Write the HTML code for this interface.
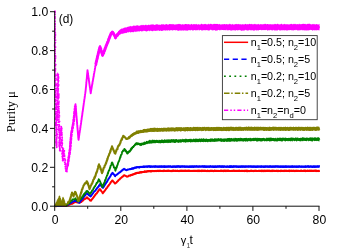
<!DOCTYPE html>
<html><head><meta charset="utf-8"><title>Purity</title>
<style>html,body{margin:0;padding:0;background:#fff;}svg{display:block;will-change:transform;}</style></head>
<body>
<svg width="349" height="252" viewBox="0 0 349 252">
<rect width="349" height="252" fill="#fff"/>
<polyline fill="none" stroke="#ff0000" stroke-width="2" stroke-linejoin="round" points="54.7,206.0 55.3,206.0 56.0,206.2 56.6,206.0 57.2,206.0 57.8,206.0 58.5,205.8 59.1,205.9 59.7,206.0 60.3,206.1 61.0,205.7 61.6,205.8 62.2,205.7 62.8,206.0 63.5,206.0 64.1,205.6 64.7,206.1 65.3,206.1 66.0,205.9 66.6,205.9 67.2,205.6 67.8,205.3 68.3,205.3 68.9,204.8 69.5,204.6 70.0,204.4 70.6,204.0 71.2,204.0 71.7,203.7 72.3,203.7 72.9,203.2 73.5,203.0 74.0,202.6 74.6,202.4 75.2,202.1 75.8,201.7 76.4,202.2 77.0,202.3 77.6,202.4 78.3,202.4 78.9,202.4 79.5,202.4 80.1,202.6 80.6,202.1 81.1,202.1 81.5,201.5 82.0,201.3 82.5,200.7 83.0,200.6 83.4,200.2 83.9,199.3 84.4,199.1 84.9,199.1 85.4,198.5 86.0,198.4 86.5,197.8 87.0,197.3 87.5,198.0 88.0,198.5 88.5,198.7 89.0,199.0 89.4,199.5 89.9,200.3 90.4,200.6 90.9,200.7 91.3,200.3 91.6,199.7 92.0,199.2 92.3,199.1 92.7,198.3 93.1,198.0 93.4,197.5 93.8,196.9 94.1,196.7 94.5,195.9 94.9,195.7 95.2,194.9 95.6,194.6 95.9,194.0 96.3,193.6 96.7,193.5 97.0,192.9 97.4,192.2 97.7,192.0 98.1,191.2 98.5,190.8 98.8,190.5 99.2,189.9 99.5,189.2 99.9,189.1 100.3,189.3 100.6,189.9 101.0,190.7 101.3,191.0 101.7,191.5 102.1,192.0 102.4,192.5 102.8,193.3 103.2,192.7 103.5,192.4 103.9,191.7 104.3,191.3 104.6,191.0 105.0,190.3 105.4,189.8 105.8,189.5 106.1,188.6 106.5,188.1 106.9,188.0 107.2,187.5 107.6,186.7 108.0,186.1 108.3,185.9 108.7,185.5 109.1,184.6 109.4,184.5 109.8,184.0 110.2,183.4 110.6,182.8 110.9,182.1 111.3,181.6 111.7,181.5 112.0,180.7 112.4,180.4 112.8,180.7 113.2,181.4 113.6,181.8 113.9,182.1 114.3,182.6 114.7,183.3 115.1,183.5 115.5,183.1 116.0,182.9 116.4,182.6 116.9,182.0 117.3,181.4 117.8,181.3 118.2,180.5 118.7,180.0 119.1,179.7 119.6,179.4 120.0,178.8 120.5,178.4 120.9,178.0 121.4,177.7 121.8,177.1 122.3,176.8 122.8,176.6 123.2,176.2 123.6,175.6 124.1,175.2 124.7,175.5 125.3,175.7 126.0,176.1 126.6,176.5 127.2,176.7 127.8,176.4 128.3,176.3 128.9,175.6 129.5,175.7 130.1,175.4 130.6,175.3 131.2,174.9 131.8,175.0 132.4,174.4 133.0,174.4 133.5,174.3 134.1,174.2 134.7,173.9 135.3,173.6 135.8,173.5 136.4,173.3 137.0,172.8 137.6,172.9 138.2,172.9 138.8,172.8 139.5,172.5 140.1,172.6 140.7,172.5 141.3,172.3 141.9,172.2 142.6,172.0 143.2,172.0 143.8,171.9 144.4,171.6 145.0,171.7 145.6,171.8 146.2,171.7 146.9,171.5 147.5,171.2 148.1,171.3 148.7,171.2 149.4,171.1 150.0,171.3 150.6,170.9 151.2,171.2 151.9,170.9 152.5,171.1 153.1,171.1 153.7,170.9 154.4,171.1 155.0,171.0 155.6,171.1 156.2,171.2 156.9,170.9 157.5,170.7 158.1,170.8 158.7,171.0 159.4,170.8 160.0,170.7 160.6,171.1 161.2,171.0 161.8,170.9 162.4,171.1 163.0,170.8 163.6,171.0 164.2,170.7 164.8,170.9 165.4,171.1 166.0,171.1 166.6,171.1 167.2,170.8 167.8,170.9 168.4,170.8 169.0,170.7 169.6,170.9 170.2,171.1 170.8,171.1 171.4,171.0 172.0,171.1 172.6,170.8 173.2,170.7 173.8,170.9 174.4,170.8 175.0,170.8 175.6,170.9 176.2,171.0 176.8,170.9 177.4,170.8 178.0,171.1 178.6,171.1 179.2,170.9 179.8,170.7 180.4,170.7 181.0,171.1 181.6,170.7 182.2,171.0 182.8,170.9 183.4,170.8 184.0,171.0 184.6,170.7 185.2,170.7 185.8,170.9 186.4,170.7 187.0,171.1 187.6,170.8 188.2,170.7 188.8,170.7 189.4,171.0 190.0,170.9 190.6,171.0 191.2,171.0 191.8,171.1 192.4,171.1 193.0,171.0 193.6,170.7 194.2,170.9 194.8,170.7 195.4,170.7 196.0,170.9 196.6,171.0 197.2,170.7 197.8,170.8 198.4,170.8 199.0,171.0 199.6,170.9 200.3,171.0 200.9,171.0 201.5,170.8 202.1,171.0 202.7,171.1 203.3,170.7 203.9,171.1 204.5,171.0 205.1,170.7 205.7,170.9 206.3,171.0 206.9,171.1 207.5,170.8 208.1,170.9 208.7,171.1 209.3,171.0 209.9,171.1 210.5,170.9 211.1,171.0 211.7,170.8 212.3,171.0 212.9,171.1 213.5,171.0 214.1,171.0 214.7,170.8 215.3,171.1 215.9,171.1 216.5,171.1 217.1,170.9 217.7,171.0 218.3,170.8 218.9,171.1 219.5,171.1 220.1,170.8 220.7,170.7 221.3,170.9 221.9,170.9 222.5,171.0 223.1,170.9 223.7,170.7 224.3,171.1 224.9,170.7 225.5,171.0 226.1,170.7 226.7,170.8 227.3,171.0 227.9,170.7 228.5,170.7 229.1,170.9 229.7,171.0 230.3,171.1 230.9,171.0 231.5,171.1 232.1,170.9 232.7,171.1 233.3,170.7 233.9,170.8 234.5,170.9 235.1,170.8 235.7,171.0 236.3,171.0 236.9,170.9 237.5,171.1 238.1,170.9 238.7,170.8 239.3,170.8 239.9,171.1 240.5,171.1 241.1,170.8 241.7,171.1 242.3,171.1 242.9,170.9 243.5,170.9 244.1,170.8 244.7,170.9 245.3,170.9 245.9,171.0 246.5,170.7 247.1,171.1 247.7,170.9 248.3,170.9 248.9,171.1 249.5,170.9 250.1,170.9 250.7,171.0 251.3,170.7 251.9,170.9 252.5,170.9 253.1,171.1 253.7,171.1 254.3,170.8 254.9,170.9 255.5,170.7 256.1,170.9 256.7,171.1 257.3,171.1 257.9,170.9 258.5,170.8 259.1,170.7 259.7,171.0 260.3,171.1 260.9,170.7 261.5,171.0 262.1,170.7 262.7,170.7 263.3,170.8 263.9,171.0 264.5,170.8 265.1,170.8 265.7,171.0 266.3,170.7 266.9,171.0 267.5,170.7 268.1,170.9 268.7,170.8 269.3,170.7 269.9,170.9 270.5,170.9 271.1,170.8 271.7,170.9 272.3,170.9 272.9,170.7 273.5,170.8 274.1,171.0 274.7,171.0 275.3,170.9 275.9,171.1 276.5,171.0 277.1,171.1 277.7,170.8 278.3,171.0 278.9,171.1 279.5,171.1 280.2,170.8 280.8,170.8 281.4,171.1 282.0,170.8 282.6,171.1 283.2,171.1 283.8,170.7 284.4,170.8 285.0,171.0 285.6,170.8 286.2,170.7 286.8,171.1 287.4,170.9 288.0,171.0 288.6,170.7 289.2,170.9 289.8,171.0 290.4,170.7 291.0,170.8 291.6,171.0 292.2,171.1 292.8,171.1 293.4,170.7 294.0,170.9 294.6,171.0 295.2,170.9 295.8,171.0 296.4,170.7 297.0,170.7 297.6,170.7 298.2,170.7 298.8,170.9 299.4,170.9 300.0,170.9 300.6,170.7 301.2,170.7 301.8,170.8 302.4,171.1 303.0,171.1 303.6,171.1 304.2,170.7 304.8,170.7 305.4,171.1 306.0,170.9 306.6,171.0 307.2,170.8 307.8,170.9 308.4,170.9 309.0,170.9 309.6,171.0 310.2,170.7 310.8,171.0 311.4,171.1 312.0,170.7 312.6,170.9 313.2,171.0 313.8,170.9 314.4,170.7 315.0,170.7 315.6,170.9 316.2,170.7 316.8,171.1 317.4,171.1 318.0,171.0 318.6,171.1 319.2,171.0 319.8,170.9"/>
<polygon fill="#ff0000" points="130.0,174.5 130.5,174.5 131.0,173.9 131.5,174.0 132.0,173.8 132.5,173.7 133.0,173.4 133.5,173.3 134.0,173.1 134.5,172.7 135.0,172.3 135.5,172.5 136.0,172.1 136.5,172.1 137.0,171.9 137.5,171.8 138.0,171.9 138.5,171.7 139.0,171.8 139.5,171.5 140.0,171.3 140.5,171.1 141.0,171.2 141.5,171.0 142.0,171.1 142.5,171.2 143.0,171.2 143.5,171.0 144.0,170.8 144.5,170.5 145.0,170.5 145.5,170.4 146.0,170.5 146.5,170.6 147.0,170.3 147.5,170.2 148.0,170.2 148.5,170.0 149.0,170.0 149.5,170.0 150.0,169.9 150.5,170.0 151.0,170.2 151.5,170.3 152.0,169.8 152.5,170.0 153.0,170.3 153.5,170.0 154.0,170.1 154.5,170.2 155.0,170.0 155.5,170.0 156.0,169.8 156.5,170.0 157.0,169.9 157.5,169.9 158.0,169.9 158.5,170.0 159.0,170.1 159.5,170.0 160.0,169.7 160.5,170.0 161.0,169.8 161.5,169.9 162.0,169.9 162.5,170.0 163.0,169.7 163.5,170.1 164.0,169.6 164.5,169.7 165.0,169.9 165.5,169.9 166.0,169.6 166.5,169.9 167.0,169.8 167.5,169.7 168.0,170.0 168.5,169.6 169.0,170.0 169.5,170.0 170.0,169.8 170.5,170.0 171.0,169.9 171.5,169.8 172.0,170.0 172.5,169.8 173.0,169.6 173.5,169.6 174.0,169.9 174.5,169.9 175.0,170.0 175.5,169.7 176.0,169.6 176.5,170.0 177.0,169.7 177.5,169.8 178.0,169.8 178.5,170.0 179.0,170.1 179.5,170.1 180.0,170.0 180.5,169.8 181.0,170.1 181.5,169.7 182.0,169.8 182.5,169.8 183.0,169.7 183.5,170.0 184.0,170.0 184.5,169.7 185.0,170.0 185.5,169.6 186.0,169.9 186.5,170.1 187.0,170.0 187.5,169.9 188.0,169.6 188.5,170.0 189.0,169.6 189.5,169.7 190.0,169.9 190.5,169.7 191.0,169.9 191.5,169.8 192.0,170.1 192.5,169.8 193.0,170.0 193.5,170.1 194.0,170.0 194.5,170.0 195.0,170.0 195.5,170.1 196.0,169.9 196.5,170.0 197.0,169.8 197.5,170.0 198.0,169.8 198.5,169.7 199.0,169.7 199.5,169.6 200.0,169.7 200.5,170.0 201.0,169.6 201.5,169.9 202.0,169.6 202.5,169.7 203.0,169.7 203.5,169.9 204.0,169.7 204.5,169.7 205.0,169.8 205.5,170.0 206.0,169.7 206.5,170.1 207.0,169.9 207.5,169.8 208.0,169.6 208.5,170.0 209.0,169.9 209.5,169.7 210.0,169.9 210.5,169.6 211.0,169.8 211.5,170.0 212.0,169.7 212.5,169.8 213.0,170.0 213.5,169.9 214.0,169.7 214.5,169.7 215.0,169.6 215.5,170.0 216.0,169.6 216.5,170.0 217.0,169.8 217.5,170.1 218.0,170.0 218.5,170.0 219.0,170.1 219.5,170.0 220.0,169.9 220.5,169.7 221.0,169.8 221.5,169.6 222.0,169.8 222.5,169.8 223.0,169.7 223.5,169.8 224.0,170.0 224.5,169.6 225.0,170.0 225.5,169.9 226.0,169.6 226.5,170.0 227.0,169.9 227.5,169.8 228.0,169.7 228.5,169.8 229.0,169.7 229.5,170.0 230.0,170.1 230.5,170.0 231.0,170.0 231.5,169.7 232.0,169.9 232.5,169.7 233.0,170.0 233.5,169.6 234.0,169.7 234.5,169.8 235.0,170.1 235.5,169.9 236.0,170.0 236.5,169.8 237.0,169.8 237.5,169.8 238.0,170.1 238.5,169.9 239.0,169.6 239.5,169.8 240.0,169.7 240.5,169.9 241.0,170.0 241.5,169.7 242.0,170.1 242.5,169.8 243.0,169.7 243.5,170.1 244.0,170.0 244.5,169.7 245.0,169.9 245.5,169.6 246.0,169.9 246.5,169.8 247.0,169.8 247.5,169.7 248.0,169.7 248.5,169.9 249.0,169.9 249.5,170.1 250.0,170.0 250.5,169.7 251.0,169.7 251.5,169.7 252.0,170.0 252.5,169.9 253.0,169.6 253.5,170.1 254.0,169.9 254.5,169.9 255.0,169.8 255.5,170.0 256.0,169.7 256.5,169.7 257.0,169.9 257.5,169.9 258.0,169.9 258.5,169.9 259.0,169.9 259.5,170.1 260.0,169.8 260.5,169.9 261.0,170.0 261.5,169.8 262.0,170.0 262.5,169.8 263.0,169.9 263.5,169.9 264.0,169.8 264.5,169.8 265.0,170.0 265.5,170.0 266.0,170.0 266.5,169.9 267.0,169.7 267.5,169.9 268.0,169.6 268.5,169.9 269.0,169.8 269.5,169.7 270.0,170.1 270.5,169.9 271.0,169.8 271.5,169.7 272.0,169.9 272.5,169.6 273.0,169.7 273.5,170.1 274.0,169.7 274.5,169.8 275.0,170.0 275.5,169.8 276.0,169.9 276.5,169.6 277.0,169.8 277.5,170.1 278.0,169.8 278.5,169.7 279.0,170.0 279.5,170.0 280.0,169.8 280.5,170.0 281.0,169.7 281.5,169.7 282.0,169.6 282.5,170.0 283.0,170.1 283.5,170.0 284.0,169.9 284.5,169.8 285.0,169.7 285.5,170.0 286.0,169.7 286.5,169.9 287.0,169.8 287.5,170.0 288.0,169.7 288.5,170.1 289.0,169.7 289.5,169.6 290.0,169.8 290.5,169.9 291.0,169.9 291.5,169.7 292.0,169.6 292.5,170.0 293.0,169.7 293.5,169.7 294.0,170.1 294.5,169.8 295.0,169.8 295.5,169.8 296.0,169.9 296.5,169.8 297.0,170.0 297.5,169.9 298.0,169.9 298.5,170.1 299.0,170.0 299.5,169.9 300.0,169.8 300.5,170.0 301.0,169.7 301.5,169.7 302.0,169.8 302.5,169.9 303.0,169.9 303.5,169.7 304.0,169.6 304.5,169.8 305.0,169.7 305.5,169.6 306.0,169.9 306.5,170.0 307.0,169.7 307.5,169.6 308.0,169.9 308.5,169.7 309.0,169.6 309.5,169.7 310.0,169.7 310.5,170.0 311.0,169.6 311.5,169.8 312.0,170.1 312.5,169.8 313.0,170.1 313.5,169.8 314.0,169.6 314.5,170.0 315.0,169.8 315.5,169.8 316.0,169.6 316.5,170.0 317.0,169.7 317.5,169.9 318.0,169.8 318.5,169.8 319.0,170.1 319.5,169.6 319.5,171.9 319.0,172.0 318.5,171.9 318.0,172.2 317.5,171.8 317.0,171.8 316.5,172.1 316.0,172.2 315.5,171.7 315.0,171.8 314.5,171.8 314.0,171.8 313.5,172.1 313.0,171.8 312.5,172.1 312.0,171.7 311.5,171.8 311.0,171.9 310.5,172.1 310.0,172.0 309.5,171.8 309.0,172.1 308.5,172.0 308.0,172.0 307.5,171.9 307.0,171.9 306.5,171.8 306.0,172.0 305.5,172.2 305.0,172.1 304.5,171.9 304.0,171.9 303.5,171.8 303.0,172.1 302.5,172.1 302.0,171.7 301.5,172.0 301.0,171.9 300.5,172.1 300.0,172.1 299.5,171.8 299.0,171.8 298.5,171.8 298.0,172.0 297.5,172.1 297.0,172.0 296.5,172.0 296.0,172.0 295.5,171.8 295.0,172.2 294.5,172.1 294.0,171.7 293.5,172.1 293.0,172.0 292.5,171.8 292.0,171.8 291.5,172.1 291.0,171.8 290.5,171.7 290.0,172.0 289.5,172.2 289.0,172.0 288.5,172.0 288.0,171.9 287.5,172.0 287.0,172.0 286.5,172.1 286.0,171.8 285.5,171.8 285.0,171.9 284.5,171.7 284.0,172.2 283.5,171.8 283.0,172.1 282.5,171.9 282.0,171.8 281.5,172.1 281.0,172.0 280.5,172.2 280.0,171.8 279.5,171.9 279.0,171.8 278.5,172.2 278.0,171.8 277.5,172.2 277.0,171.9 276.5,172.1 276.0,171.7 275.5,171.9 275.0,172.1 274.5,171.7 274.0,171.8 273.5,171.7 273.0,172.0 272.5,172.1 272.0,172.2 271.5,172.1 271.0,172.1 270.5,172.1 270.0,172.2 269.5,171.7 269.0,171.9 268.5,171.8 268.0,172.0 267.5,171.9 267.0,171.9 266.5,171.7 266.0,171.9 265.5,172.0 265.0,172.2 264.5,171.7 264.0,172.2 263.5,172.0 263.0,172.2 262.5,171.9 262.0,172.1 261.5,172.2 261.0,172.1 260.5,172.0 260.0,171.9 259.5,172.0 259.0,171.8 258.5,171.7 258.0,171.9 257.5,171.8 257.0,171.8 256.5,171.9 256.0,171.9 255.5,171.7 255.0,172.0 254.5,172.1 254.0,171.9 253.5,172.2 253.0,171.8 252.5,171.7 252.0,171.8 251.5,172.0 251.0,172.1 250.5,172.1 250.0,172.0 249.5,172.2 249.0,171.8 248.5,172.0 248.0,172.2 247.5,172.2 247.0,171.9 246.5,172.2 246.0,172.0 245.5,171.8 245.0,171.8 244.5,172.2 244.0,172.1 243.5,172.0 243.0,172.1 242.5,172.0 242.0,172.0 241.5,172.1 241.0,172.0 240.5,172.1 240.0,171.9 239.5,172.0 239.0,171.9 238.5,172.0 238.0,172.1 237.5,172.0 237.0,171.7 236.5,171.9 236.0,172.1 235.5,172.0 235.0,171.9 234.5,171.7 234.0,171.8 233.5,171.8 233.0,172.0 232.5,171.9 232.0,172.1 231.5,171.7 231.0,171.7 230.5,171.9 230.0,172.0 229.5,171.9 229.0,171.8 228.5,172.0 228.0,171.9 227.5,172.0 227.0,171.8 226.5,171.8 226.0,172.2 225.5,171.9 225.0,171.8 224.5,171.9 224.0,172.0 223.5,172.2 223.0,171.9 222.5,172.0 222.0,172.1 221.5,171.9 221.0,171.9 220.5,172.1 220.0,172.0 219.5,171.8 219.0,171.7 218.5,171.9 218.0,171.9 217.5,172.0 217.0,171.9 216.5,171.7 216.0,171.8 215.5,172.1 215.0,172.1 214.5,172.1 214.0,172.0 213.5,172.2 213.0,172.0 212.5,171.8 212.0,171.8 211.5,172.0 211.0,172.1 210.5,171.9 210.0,171.8 209.5,172.2 209.0,172.0 208.5,171.9 208.0,172.2 207.5,171.8 207.0,172.2 206.5,171.9 206.0,172.1 205.5,171.9 205.0,172.0 204.5,172.1 204.0,171.8 203.5,171.8 203.0,172.1 202.5,171.8 202.0,171.8 201.5,172.2 201.0,171.9 200.5,171.8 200.0,172.0 199.5,171.9 199.0,172.2 198.5,171.9 198.0,171.8 197.5,172.2 197.0,171.8 196.5,171.9 196.0,172.1 195.5,172.0 195.0,172.1 194.5,172.1 194.0,172.0 193.5,171.9 193.0,172.1 192.5,172.0 192.0,172.0 191.5,171.9 191.0,172.1 190.5,172.1 190.0,171.8 189.5,172.1 189.0,172.0 188.5,172.1 188.0,171.7 187.5,172.1 187.0,171.7 186.5,172.0 186.0,172.0 185.5,172.0 185.0,171.8 184.5,172.1 184.0,172.0 183.5,172.0 183.0,172.0 182.5,171.9 182.0,171.9 181.5,171.9 181.0,172.1 180.5,171.9 180.0,171.9 179.5,171.9 179.0,172.2 178.5,172.0 178.0,171.8 177.5,172.1 177.0,171.8 176.5,172.0 176.0,171.9 175.5,172.0 175.0,171.7 174.5,171.8 174.0,171.9 173.5,171.7 173.0,172.1 172.5,171.9 172.0,172.2 171.5,172.0 171.0,172.2 170.5,171.9 170.0,171.8 169.5,171.8 169.0,172.0 168.5,171.8 168.0,172.1 167.5,171.9 167.0,171.9 166.5,172.0 166.0,172.0 165.5,171.7 165.0,171.8 164.5,171.9 164.0,171.7 163.5,172.1 163.0,172.2 162.5,171.8 162.0,172.0 161.5,172.0 161.0,171.8 160.5,172.0 160.0,172.1 159.5,171.8 159.0,172.2 158.5,172.0 158.0,172.0 157.5,171.9 157.0,172.1 156.5,171.9 156.0,171.8 155.5,172.0 155.0,171.9 154.5,172.2 154.0,172.1 153.5,172.3 153.0,172.0 152.5,172.1 152.0,172.4 151.5,172.4 151.0,172.0 150.5,172.4 150.0,172.3 149.5,172.0 149.0,172.0 148.5,172.3 148.0,172.3 147.5,172.2 147.0,172.5 146.5,172.5 146.0,172.4 145.5,172.6 145.0,172.7 144.5,173.0 144.0,173.0 143.5,172.7 143.0,173.1 142.5,173.1 142.0,173.2 141.5,173.5 141.0,173.1 140.5,173.3 140.0,173.4 139.5,173.7 139.0,173.4 138.5,173.9 138.0,173.9 137.5,173.8 137.0,174.0 136.5,174.1 136.0,174.5 135.5,174.6 135.0,174.6 134.5,174.8 134.0,174.8 133.5,175.2 133.0,175.5 132.5,175.8 132.0,175.7 131.5,176.1 131.0,176.3 130.5,176.5 130.0,176.5"/>
<polyline fill="none" stroke="#0000ff" stroke-width="2" stroke-linejoin="round" points="54.7,206.1 55.3,205.7 56.0,205.9 56.6,206.0 57.2,206.1 57.8,205.9 58.5,206.1 59.1,205.8 59.7,205.7 60.4,206.0 61.0,205.7 61.6,205.9 62.2,205.5 62.9,205.5 63.5,205.4 64.1,205.6 64.7,205.4 65.4,205.3 66.0,205.3 66.5,205.2 67.0,204.8 67.6,204.6 68.1,204.6 68.6,204.1 69.2,204.0 69.7,203.3 70.2,203.1 70.7,202.6 71.2,202.7 71.8,202.2 72.3,201.9 72.9,201.5 73.5,201.3 74.0,201.2 74.6,201.0 75.2,201.1 75.8,200.7 76.4,200.8 76.9,201.2 77.5,201.4 78.1,202.3 78.6,202.3 79.2,202.9 79.6,202.4 80.0,202.0 80.4,201.0 80.8,200.7 81.2,200.3 81.5,199.6 81.9,199.6 82.3,198.8 82.7,198.6 83.1,198.0 83.5,197.2 83.9,196.9 84.3,196.4 84.7,195.8 85.0,195.4 85.4,195.2 85.8,194.3 86.2,194.0 86.6,193.6 87.0,193.2 87.4,193.4 87.8,194.2 88.3,194.3 88.7,195.0 89.1,195.4 89.6,195.5 90.0,196.0 90.4,196.5 90.8,196.2 91.2,195.6 91.5,195.1 91.9,194.9 92.3,194.0 92.7,193.6 93.1,193.1 93.4,192.6 93.8,192.0 94.2,191.5 94.6,191.4 95.0,190.9 95.3,190.5 95.7,190.2 96.1,189.3 96.5,189.0 96.9,188.7 97.2,187.8 97.6,187.6 98.0,187.1 98.4,186.8 98.8,186.3 99.1,185.4 99.5,185.2 99.9,184.4 100.3,185.0 100.8,185.5 101.2,185.8 101.7,186.5 102.1,186.9 102.6,187.5 103.0,187.9 103.3,187.3 103.6,186.9 104.0,186.4 104.3,185.7 104.6,185.5 104.9,184.7 105.3,184.1 105.6,183.7 105.9,183.3 106.2,182.6 106.6,182.3 106.9,181.9 107.2,181.3 107.5,180.8 107.9,179.9 108.2,179.6 108.5,179.1 108.8,178.4 109.2,178.0 109.5,177.3 109.8,177.1 110.1,176.6 110.5,176.0 110.8,175.4 111.1,174.8 111.4,174.2 111.8,173.8 112.1,173.7 112.4,172.9 112.9,173.2 113.3,174.0 113.8,174.2 114.2,174.8 114.6,175.4 115.1,176.1 115.6,175.3 116.1,175.1 116.6,174.9 117.1,174.4 117.6,174.0 118.1,173.6 118.6,173.1 119.1,172.7 119.6,172.2 120.1,172.2 120.6,171.8 121.1,171.1 121.6,171.1 122.1,170.2 122.6,169.8 123.1,169.7 123.6,169.2 124.1,168.8 124.6,169.5 125.1,169.4 125.6,169.8 126.1,170.1 126.7,170.2 127.3,169.8 127.9,169.5 128.5,169.6 129.1,169.4 129.7,169.1 130.3,169.1 130.9,169.0 131.6,168.8 132.2,168.7 132.8,168.4 133.4,168.4 134.0,168.3 134.6,167.8 135.2,167.6 135.8,167.8 136.4,167.3 137.0,167.3 137.6,167.3 138.2,167.2 138.8,167.4 139.5,167.3 140.1,166.8 140.7,167.1 141.3,167.0 141.9,167.0 142.6,166.8 143.2,166.7 143.8,167.0 144.4,166.8 145.0,166.6 145.6,166.6 146.2,166.6 146.9,166.5 147.5,166.6 148.1,166.4 148.7,166.3 149.4,166.3 150.0,166.4 150.6,166.7 151.2,166.4 151.9,166.6 152.5,166.8 153.1,166.6 153.7,166.4 154.4,166.8 155.0,166.8 155.6,166.3 156.2,166.5 156.9,166.6 157.5,166.8 158.1,166.5 158.7,166.7 159.4,166.5 160.0,166.7 160.6,166.5 161.2,166.5 161.8,166.8 162.4,166.8 163.0,166.8 163.6,166.6 164.2,166.6 164.8,166.7 165.4,166.7 166.0,166.8 166.6,166.8 167.2,166.4 167.8,166.5 168.4,166.7 169.0,166.4 169.6,166.4 170.2,166.3 170.8,166.7 171.4,166.9 172.0,166.9 172.6,166.4 173.2,166.7 173.8,166.6 174.4,166.7 175.0,166.5 175.6,166.9 176.2,166.9 176.8,166.3 177.4,166.7 178.0,166.4 178.6,166.3 179.2,166.5 179.8,166.7 180.4,166.9 181.0,166.4 181.6,166.5 182.2,166.3 182.8,166.6 183.4,166.6 184.0,166.5 184.6,166.5 185.2,166.8 185.8,166.8 186.4,166.5 187.0,166.5 187.6,166.7 188.2,166.8 188.8,166.9 189.4,166.5 190.0,166.7 190.6,166.6 191.2,166.8 191.8,166.4 192.4,166.4 193.0,166.4 193.6,166.9 194.2,166.5 194.8,166.6 195.4,166.4 196.0,166.5 196.6,166.3 197.2,166.6 197.8,166.4 198.4,166.7 199.0,166.5 199.6,166.4 200.3,166.6 200.9,166.5 201.5,166.5 202.1,166.3 202.7,166.3 203.3,166.8 203.9,166.5 204.5,166.3 205.1,166.4 205.7,166.6 206.3,166.9 206.9,166.4 207.5,166.8 208.1,166.6 208.7,166.5 209.3,166.8 209.9,166.5 210.5,166.3 211.1,166.6 211.7,166.7 212.3,166.7 212.9,166.5 213.5,166.9 214.1,166.8 214.7,166.9 215.3,166.6 215.9,166.8 216.5,166.7 217.1,166.4 217.7,166.3 218.3,166.4 218.9,166.4 219.5,166.3 220.1,166.5 220.7,166.8 221.3,166.5 221.9,166.6 222.5,166.3 223.1,166.4 223.7,166.9 224.3,166.3 224.9,166.6 225.5,166.8 226.1,166.8 226.7,166.7 227.3,166.5 227.9,166.8 228.5,166.8 229.1,166.8 229.7,166.9 230.3,166.4 230.9,166.9 231.5,166.5 232.1,166.7 232.7,166.5 233.3,166.8 233.9,166.3 234.5,166.6 235.1,166.4 235.7,166.5 236.3,166.5 236.9,166.7 237.5,166.8 238.1,166.5 238.7,166.7 239.3,166.5 239.9,166.5 240.5,166.8 241.1,166.5 241.7,166.4 242.3,166.5 242.9,166.7 243.5,166.4 244.1,166.7 244.7,166.6 245.3,166.7 245.9,166.4 246.5,166.4 247.1,166.4 247.7,166.5 248.3,166.6 248.9,166.3 249.5,166.6 250.1,166.5 250.7,166.5 251.3,166.6 251.9,166.9 252.5,166.4 253.1,166.8 253.7,166.5 254.3,166.8 254.9,166.4 255.5,166.9 256.1,166.6 256.7,166.9 257.3,166.4 257.9,166.5 258.5,166.7 259.1,166.4 259.7,166.5 260.3,166.7 260.9,166.9 261.5,166.5 262.1,166.4 262.7,166.5 263.3,166.9 263.9,166.4 264.5,166.7 265.1,166.5 265.7,166.7 266.3,166.4 266.9,166.7 267.5,166.8 268.1,166.8 268.7,166.7 269.3,166.6 269.9,166.6 270.5,166.4 271.1,166.8 271.7,166.7 272.3,166.6 272.9,166.7 273.5,166.6 274.1,166.5 274.7,166.4 275.3,166.7 275.9,166.6 276.5,166.6 277.1,166.3 277.7,166.7 278.3,166.6 278.9,166.7 279.5,166.7 280.2,166.9 280.8,166.4 281.4,166.6 282.0,166.9 282.6,166.7 283.2,166.5 283.8,166.7 284.4,166.9 285.0,166.5 285.6,166.8 286.2,166.4 286.8,166.9 287.4,166.6 288.0,166.4 288.6,166.8 289.2,166.7 289.8,166.9 290.4,166.8 291.0,166.8 291.6,166.6 292.2,166.9 292.8,166.3 293.4,166.8 294.0,166.7 294.6,166.5 295.2,166.8 295.8,166.6 296.4,166.6 297.0,166.8 297.6,166.4 298.2,166.5 298.8,166.7 299.4,166.3 300.0,166.6 300.6,166.8 301.2,166.6 301.8,166.4 302.4,166.8 303.0,166.8 303.6,166.8 304.2,166.6 304.8,166.8 305.4,166.8 306.0,166.4 306.6,166.5 307.2,166.4 307.8,166.3 308.4,166.5 309.0,166.8 309.6,166.8 310.2,166.4 310.8,166.4 311.4,166.5 312.0,166.8 312.6,166.7 313.2,166.8 313.8,166.3 314.4,166.9 315.0,166.4 315.6,166.7 316.2,166.8 316.8,166.7 317.4,166.4 318.0,166.7 318.6,166.6 319.2,166.3 319.8,166.5"/>
<polygon fill="#0000ff" points="130.0,168.0 130.5,167.9 131.0,168.0 131.5,167.5 132.0,167.6 132.5,167.2 133.0,167.4 133.5,167.0 134.0,167.1 134.5,166.8 135.0,166.7 135.5,166.7 136.0,166.6 136.5,166.3 137.0,166.4 137.5,166.2 138.0,166.1 138.5,166.3 139.0,166.3 139.5,166.0 140.0,165.9 140.5,166.0 141.0,165.7 141.5,165.8 142.0,166.2 142.5,166.0 143.0,165.7 143.5,165.6 144.0,165.6 144.5,165.6 145.0,165.9 145.5,165.7 146.0,165.9 146.5,165.6 147.0,165.7 147.5,165.5 148.0,165.8 148.5,165.6 149.0,165.5 149.5,165.4 150.0,165.6 150.5,165.8 151.0,165.5 151.5,165.6 152.0,165.8 152.5,165.5 153.0,165.6 153.5,165.8 154.0,165.5 154.5,165.5 155.0,165.3 155.5,165.6 156.0,165.7 156.5,165.7 157.0,165.7 157.5,165.5 158.0,165.8 158.5,165.8 159.0,165.5 159.5,165.6 160.0,165.7 160.5,165.6 161.0,165.6 161.5,165.3 162.0,165.4 162.5,165.4 163.0,165.3 163.5,165.5 164.0,165.5 164.5,165.3 165.0,165.3 165.5,165.6 166.0,165.6 166.5,165.8 167.0,165.3 167.5,165.7 168.0,165.7 168.5,165.6 169.0,165.3 169.5,165.8 170.0,165.8 170.5,165.5 171.0,165.4 171.5,165.8 172.0,165.5 172.5,165.8 173.0,165.6 173.5,165.8 174.0,165.4 174.5,165.4 175.0,165.5 175.5,165.5 176.0,165.5 176.5,165.8 177.0,165.6 177.5,165.5 178.0,165.3 178.5,165.4 179.0,165.4 179.5,165.5 180.0,165.5 180.5,165.3 181.0,165.8 181.5,165.6 182.0,165.4 182.5,165.6 183.0,165.5 183.5,165.7 184.0,165.3 184.5,165.4 185.0,165.5 185.5,165.5 186.0,165.7 186.5,165.8 187.0,165.4 187.5,165.7 188.0,165.6 188.5,165.7 189.0,165.6 189.5,165.8 190.0,165.3 190.5,165.7 191.0,165.3 191.5,165.5 192.0,165.8 192.5,165.3 193.0,165.5 193.5,165.5 194.0,165.5 194.5,165.4 195.0,165.3 195.5,165.8 196.0,165.6 196.5,165.3 197.0,165.8 197.5,165.8 198.0,165.5 198.5,165.8 199.0,165.8 199.5,165.3 200.0,165.5 200.5,165.8 201.0,165.7 201.5,165.7 202.0,165.7 202.5,165.6 203.0,165.5 203.5,165.5 204.0,165.6 204.5,165.6 205.0,165.5 205.5,165.5 206.0,165.4 206.5,165.4 207.0,165.7 207.5,165.4 208.0,165.7 208.5,165.7 209.0,165.6 209.5,165.8 210.0,165.5 210.5,165.4 211.0,165.3 211.5,165.8 212.0,165.7 212.5,165.6 213.0,165.3 213.5,165.7 214.0,165.3 214.5,165.4 215.0,165.6 215.5,165.3 216.0,165.6 216.5,165.8 217.0,165.5 217.5,165.7 218.0,165.8 218.5,165.4 219.0,165.3 219.5,165.4 220.0,165.4 220.5,165.5 221.0,165.4 221.5,165.6 222.0,165.3 222.5,165.8 223.0,165.6 223.5,165.6 224.0,165.8 224.5,165.4 225.0,165.8 225.5,165.7 226.0,165.5 226.5,165.7 227.0,165.6 227.5,165.5 228.0,165.8 228.5,165.8 229.0,165.3 229.5,165.3 230.0,165.3 230.5,165.4 231.0,165.3 231.5,165.3 232.0,165.6 232.5,165.7 233.0,165.7 233.5,165.3 234.0,165.4 234.5,165.5 235.0,165.4 235.5,165.5 236.0,165.3 236.5,165.6 237.0,165.6 237.5,165.4 238.0,165.7 238.5,165.8 239.0,165.8 239.5,165.8 240.0,165.5 240.5,165.7 241.0,165.6 241.5,165.3 242.0,165.8 242.5,165.3 243.0,165.8 243.5,165.3 244.0,165.7 244.5,165.6 245.0,165.7 245.5,165.3 246.0,165.8 246.5,165.5 247.0,165.5 247.5,165.7 248.0,165.6 248.5,165.5 249.0,165.5 249.5,165.8 250.0,165.3 250.5,165.5 251.0,165.4 251.5,165.6 252.0,165.6 252.5,165.8 253.0,165.4 253.5,165.4 254.0,165.7 254.5,165.6 255.0,165.7 255.5,165.4 256.0,165.8 256.5,165.5 257.0,165.8 257.5,165.3 258.0,165.7 258.5,165.7 259.0,165.4 259.5,165.7 260.0,165.7 260.5,165.5 261.0,165.3 261.5,165.3 262.0,165.8 262.5,165.8 263.0,165.8 263.5,165.7 264.0,165.4 264.5,165.7 265.0,165.7 265.5,165.5 266.0,165.3 266.5,165.8 267.0,165.4 267.5,165.3 268.0,165.4 268.5,165.6 269.0,165.6 269.5,165.6 270.0,165.3 270.5,165.3 271.0,165.7 271.5,165.6 272.0,165.4 272.5,165.4 273.0,165.8 273.5,165.6 274.0,165.5 274.5,165.8 275.0,165.3 275.5,165.5 276.0,165.3 276.5,165.7 277.0,165.3 277.5,165.7 278.0,165.6 278.5,165.4 279.0,165.4 279.5,165.4 280.0,165.5 280.5,165.6 281.0,165.5 281.5,165.6 282.0,165.6 282.5,165.4 283.0,165.4 283.5,165.8 284.0,165.3 284.5,165.8 285.0,165.4 285.5,165.4 286.0,165.3 286.5,165.4 287.0,165.7 287.5,165.6 288.0,165.8 288.5,165.5 289.0,165.5 289.5,165.6 290.0,165.5 290.5,165.5 291.0,165.6 291.5,165.4 292.0,165.3 292.5,165.4 293.0,165.7 293.5,165.8 294.0,165.5 294.5,165.8 295.0,165.5 295.5,165.8 296.0,165.5 296.5,165.4 297.0,165.7 297.5,165.8 298.0,165.7 298.5,165.7 299.0,165.4 299.5,165.4 300.0,165.8 300.5,165.6 301.0,165.7 301.5,165.8 302.0,165.6 302.5,165.7 303.0,165.8 303.5,165.4 304.0,165.7 304.5,165.8 305.0,165.3 305.5,165.3 306.0,165.7 306.5,165.8 307.0,165.8 307.5,165.5 308.0,165.5 308.5,165.3 309.0,165.4 309.5,165.7 310.0,165.6 310.5,165.4 311.0,165.6 311.5,165.8 312.0,165.8 312.5,165.4 313.0,165.6 313.5,165.7 314.0,165.4 314.5,165.5 315.0,165.8 315.5,165.5 316.0,165.4 316.5,165.6 317.0,165.4 317.5,165.3 318.0,165.6 318.5,165.6 319.0,165.5 319.5,165.5 319.5,167.9 319.0,167.5 318.5,167.6 318.0,167.9 317.5,167.6 317.0,167.4 316.5,167.5 316.0,167.5 315.5,167.8 315.0,167.7 314.5,167.4 314.0,167.7 313.5,167.5 313.0,167.9 312.5,167.9 312.0,167.9 311.5,167.5 311.0,167.8 310.5,167.5 310.0,167.5 309.5,167.8 309.0,167.7 308.5,167.8 308.0,167.4 307.5,167.6 307.0,167.7 306.5,167.7 306.0,167.8 305.5,167.9 305.0,167.8 304.5,167.7 304.0,167.8 303.5,167.5 303.0,167.9 302.5,167.4 302.0,167.4 301.5,167.9 301.0,167.7 300.5,167.6 300.0,167.4 299.5,167.5 299.0,167.8 298.5,167.8 298.0,167.8 297.5,167.8 297.0,167.9 296.5,167.9 296.0,167.5 295.5,167.7 295.0,167.5 294.5,167.6 294.0,167.7 293.5,167.7 293.0,167.5 292.5,167.8 292.0,167.8 291.5,167.6 291.0,167.9 290.5,167.6 290.0,167.4 289.5,167.7 289.0,167.5 288.5,167.4 288.0,167.7 287.5,167.6 287.0,167.6 286.5,167.4 286.0,167.9 285.5,167.7 285.0,167.8 284.5,167.5 284.0,167.7 283.5,167.9 283.0,167.9 282.5,167.9 282.0,167.6 281.5,167.6 281.0,167.9 280.5,167.5 280.0,167.6 279.5,167.7 279.0,167.4 278.5,167.4 278.0,167.6 277.5,167.6 277.0,167.5 276.5,167.5 276.0,167.5 275.5,167.4 275.0,167.8 274.5,167.9 274.0,167.5 273.5,167.9 273.0,167.6 272.5,167.8 272.0,167.7 271.5,167.4 271.0,167.9 270.5,167.5 270.0,167.5 269.5,167.9 269.0,167.8 268.5,167.7 268.0,167.4 267.5,167.5 267.0,167.6 266.5,167.4 266.0,167.5 265.5,167.6 265.0,167.9 264.5,167.9 264.0,167.4 263.5,167.9 263.0,167.4 262.5,167.6 262.0,167.9 261.5,167.5 261.0,167.9 260.5,167.6 260.0,167.4 259.5,167.6 259.0,167.7 258.5,167.6 258.0,167.6 257.5,167.8 257.0,167.6 256.5,167.9 256.0,167.6 255.5,167.6 255.0,167.5 254.5,167.4 254.0,167.8 253.5,167.8 253.0,167.5 252.5,167.5 252.0,167.5 251.5,167.5 251.0,167.5 250.5,167.8 250.0,167.5 249.5,167.5 249.0,167.5 248.5,167.8 248.0,167.7 247.5,167.5 247.0,167.4 246.5,167.6 246.0,167.9 245.5,167.8 245.0,167.4 244.5,167.8 244.0,167.7 243.5,167.8 243.0,167.4 242.5,167.9 242.0,167.4 241.5,167.7 241.0,167.9 240.5,167.7 240.0,167.7 239.5,167.4 239.0,167.9 238.5,167.9 238.0,167.9 237.5,167.6 237.0,167.4 236.5,167.9 236.0,167.6 235.5,167.6 235.0,167.8 234.5,167.6 234.0,167.7 233.5,167.7 233.0,167.7 232.5,167.9 232.0,167.9 231.5,167.4 231.0,167.7 230.5,167.9 230.0,167.9 229.5,167.7 229.0,167.9 228.5,167.7 228.0,167.4 227.5,167.5 227.0,167.7 226.5,167.9 226.0,167.6 225.5,167.5 225.0,167.6 224.5,167.4 224.0,167.8 223.5,167.7 223.0,167.8 222.5,167.7 222.0,167.9 221.5,167.9 221.0,167.5 220.5,167.5 220.0,167.4 219.5,167.5 219.0,167.7 218.5,167.5 218.0,167.8 217.5,167.5 217.0,167.9 216.5,167.8 216.0,167.9 215.5,167.8 215.0,167.7 214.5,167.5 214.0,167.8 213.5,167.8 213.0,167.9 212.5,167.5 212.0,167.7 211.5,167.4 211.0,167.5 210.5,167.8 210.0,167.6 209.5,167.9 209.0,167.7 208.5,167.6 208.0,167.6 207.5,167.4 207.0,167.7 206.5,167.5 206.0,167.8 205.5,167.9 205.0,167.7 204.5,167.9 204.0,167.6 203.5,167.7 203.0,167.4 202.5,167.5 202.0,167.4 201.5,167.4 201.0,167.6 200.5,167.6 200.0,167.8 199.5,167.6 199.0,167.6 198.5,167.4 198.0,167.7 197.5,167.5 197.0,167.7 196.5,167.5 196.0,167.4 195.5,167.7 195.0,167.4 194.5,167.8 194.0,167.4 193.5,167.6 193.0,167.8 192.5,167.8 192.0,167.9 191.5,167.8 191.0,167.8 190.5,167.7 190.0,167.9 189.5,167.7 189.0,167.7 188.5,167.4 188.0,167.4 187.5,167.8 187.0,167.5 186.5,167.8 186.0,167.4 185.5,167.5 185.0,167.9 184.5,167.8 184.0,167.5 183.5,167.4 183.0,167.7 182.5,167.5 182.0,167.7 181.5,167.6 181.0,167.6 180.5,167.7 180.0,167.9 179.5,167.4 179.0,167.8 178.5,167.6 178.0,167.6 177.5,167.5 177.0,167.7 176.5,167.4 176.0,167.4 175.5,167.6 175.0,167.6 174.5,167.6 174.0,167.8 173.5,167.6 173.0,167.7 172.5,167.9 172.0,167.7 171.5,167.5 171.0,167.4 170.5,167.4 170.0,167.4 169.5,167.7 169.0,167.5 168.5,167.4 168.0,167.4 167.5,167.8 167.0,167.4 166.5,167.6 166.0,167.9 165.5,167.6 165.0,167.9 164.5,167.9 164.0,167.9 163.5,167.7 163.0,167.5 162.5,167.6 162.0,167.8 161.5,167.7 161.0,167.4 160.5,167.4 160.0,167.5 159.5,167.4 159.0,167.7 158.5,167.4 158.0,167.9 157.5,167.4 157.0,167.4 156.5,167.8 156.0,167.5 155.5,167.7 155.0,167.5 154.5,167.8 154.0,167.4 153.5,167.5 153.0,167.5 152.5,167.6 152.0,167.4 151.5,167.8 151.0,167.8 150.5,167.9 150.0,167.9 149.5,167.8 149.0,167.6 148.5,167.6 148.0,167.4 147.5,167.9 147.0,167.8 146.5,167.7 146.0,167.5 145.5,167.6 145.0,167.9 144.5,168.0 144.0,167.8 143.5,168.1 143.0,167.9 142.5,168.1 142.0,167.9 141.5,168.0 141.0,168.0 140.5,168.0 140.0,168.2 139.5,168.4 139.0,168.2 138.5,168.0 138.0,168.1 137.5,168.1 137.0,168.2 136.5,168.4 136.0,168.5 135.5,168.6 135.0,168.6 134.5,168.8 134.0,169.2 133.5,169.5 133.0,169.3 132.5,169.8 132.0,169.4 131.5,169.9 131.0,169.8 130.5,170.2 130.0,170.3"/>
<polyline fill="none" stroke="#008000" stroke-width="1.8" stroke-linejoin="round" points="54.7,205.4 55.2,205.6 55.8,205.6 56.3,205.4 56.8,204.8 57.4,204.6 57.9,204.7 58.4,204.3 59.0,202.9 59.5,203.1 60.0,204.3 60.5,204.0 61.0,204.0 61.5,205.4 62.0,203.8 62.5,203.4 63.0,203.6 63.6,203.5 64.2,204.6 64.8,204.9 65.4,204.7 66.0,205.7 66.5,205.1 67.0,204.8 67.5,204.0 67.9,203.6 68.4,202.7 68.9,202.9 69.4,203.2 69.9,202.7 70.4,201.0 70.8,200.6 71.3,200.5 71.8,200.8 72.3,200.0 72.9,199.2 73.5,199.3 74.2,199.3 74.8,199.2 75.4,198.3 75.8,199.2 76.3,199.7 76.7,200.1 77.1,199.7 77.5,201.2 78.0,200.7 78.4,201.1 78.8,201.3 79.1,200.1 79.5,199.7 79.9,199.7 80.3,199.3 80.6,198.2 81.0,199.1 81.4,198.5 81.8,197.4 82.1,197.1 82.5,196.1 82.9,196.7 83.3,194.9 83.6,194.7 84.0,194.0 84.4,194.6 84.8,193.5 85.1,192.9 85.5,192.4 85.9,192.7 86.3,191.2 86.6,191.6 87.0,190.9 87.4,191.0 87.8,191.4 88.2,192.0 88.7,192.5 89.1,192.8 89.5,193.8 89.9,194.0 90.2,193.3 90.6,193.5 90.9,192.5 91.2,192.0 91.5,192.1 91.9,190.9 92.2,190.3 92.5,190.6 92.8,190.2 93.2,189.3 93.5,188.2 93.8,188.1 94.1,187.7 94.5,186.5 94.8,186.6 95.1,186.5 95.4,185.5 95.8,185.0 96.1,184.1 96.4,183.9 96.7,182.7 97.0,183.1 97.4,182.2 97.7,182.4 98.0,180.8 98.3,180.9 98.7,179.2 99.0,179.4 99.3,180.5 99.6,180.3 99.8,181.4 100.1,181.4 100.4,182.2 100.7,183.8 100.9,183.1 101.2,184.8 101.5,184.0 101.8,185.4 102.0,186.4 102.3,187.0 102.6,186.8 102.8,186.6 103.0,186.2 103.3,185.7 103.5,185.1 103.7,184.3 103.9,183.2 104.1,183.4 104.3,182.6 104.6,182.0 104.8,182.1 105.0,180.2 105.2,180.6 105.4,179.3 105.7,179.4 105.9,179.2 106.1,177.6 106.3,177.5 106.5,176.8 106.8,176.2 107.0,175.1 107.2,175.3 107.4,175.1 107.6,174.2 107.8,173.0 108.1,173.3 108.3,172.1 108.5,171.1 108.7,171.3 108.9,170.5 109.2,170.0 109.4,170.2 109.6,169.0 109.8,169.0 110.0,167.5 110.3,167.6 110.5,165.9 110.7,165.7 110.9,165.7 111.1,165.2 111.3,164.8 111.6,163.5 111.8,162.8 112.0,162.4 112.2,163.2 112.5,162.9 112.8,164.0 113.0,165.1 113.2,164.8 113.5,165.6 113.8,167.0 114.0,167.7 114.2,167.1 114.5,167.6 114.8,168.0 115.0,168.5 115.2,170.2 115.5,170.7 115.7,169.3 115.9,169.1 116.1,168.9 116.3,167.2 116.6,167.9 116.8,167.4 117.0,165.8 117.2,166.0 117.4,165.4 117.6,164.3 117.8,164.5 118.0,162.9 118.3,162.7 118.5,161.9 118.7,161.5 118.9,161.5 119.1,160.6 119.3,160.1 119.5,160.1 119.8,158.3 120.0,157.7 120.2,157.8 120.4,156.4 120.6,157.2 120.8,155.6 121.0,155.2 121.2,154.6 121.5,154.6 121.7,154.2 121.9,153.2 122.1,151.9 122.3,151.6 122.7,151.6 123.1,150.3 123.6,150.9 124.0,150.3 124.4,148.8 124.8,149.5 125.2,149.8 125.6,151.2 126.0,150.6 126.3,152.2 126.7,151.7 127.1,153.5 127.5,153.6 127.9,153.2 128.3,151.9 128.7,151.4 129.1,151.4 129.5,151.9 130.0,150.8 130.4,150.8 130.8,149.0 131.2,148.6 131.6,148.0 132.0,148.6 132.4,147.3 132.8,147.0 133.2,147.2 133.6,146.7 134.1,145.7 134.5,145.4 134.9,144.7 135.3,144.6 135.7,143.8 136.1,143.4 136.7,143.3 137.3,143.6 137.9,143.6 138.6,143.4 139.2,144.0 139.8,144.6 140.4,144.2 141.0,143.8 141.6,144.8 142.2,144.0 142.8,143.9 143.4,143.4 144.0,144.1 144.6,143.7 145.2,143.3 145.8,143.2 146.4,143.1 147.0,142.6 147.6,142.3 148.2,142.1 148.8,142.1 149.4,141.8 150.0,141.7 150.6,141.7 151.2,142.1 151.8,142.3 152.4,141.2 153.0,140.9 153.7,141.3 154.3,140.8 154.9,142.0 155.5,141.7 156.1,141.2 156.7,141.0 157.3,142.1 157.9,142.0 158.5,141.8 159.1,141.8 159.8,141.8 160.4,141.3 161.0,141.2 161.6,141.5 162.2,142.0 162.8,142.1 163.4,142.0 164.0,141.8 164.6,140.6 165.2,140.9 165.9,142.0 166.5,141.3 167.1,141.2 167.7,140.9 168.3,141.8 168.9,141.2 169.5,141.9 170.1,140.5 170.7,141.9 171.3,140.3 172.0,140.5 172.6,140.9 173.2,141.3 173.8,140.4 174.4,141.1 175.0,141.7 175.6,140.9 176.2,141.4 176.8,141.1 177.4,141.1 178.0,140.4 178.7,140.9 179.3,141.5 179.9,141.2 180.5,140.4 181.1,140.8 181.7,140.9 182.3,140.6 182.9,140.9 183.5,141.0 184.1,140.0 184.8,140.3 185.4,141.0 186.0,140.3 186.6,140.0 187.2,141.1 187.8,140.4 188.4,141.4 189.0,140.8 189.6,140.0 190.2,140.9 190.9,140.2 191.5,141.1 192.1,140.9 192.7,141.0 193.3,139.9 193.9,139.8 194.5,141.0 195.1,139.9 195.7,140.0 196.3,139.7 197.0,139.9 197.6,140.4 198.2,141.2 198.8,140.1 199.4,140.0 200.0,140.9 200.6,139.9 201.2,140.6 201.8,140.6 202.4,141.1 203.0,139.6 203.6,140.4 204.2,140.1 204.8,140.8 205.4,139.9 206.0,140.6 206.6,139.8 207.2,140.3 207.8,141.0 208.4,139.8 209.0,139.9 209.6,140.9 210.2,140.5 210.8,139.5 211.4,139.7 212.0,139.8 212.7,139.9 213.3,140.7 213.9,140.5 214.5,140.9 215.1,140.4 215.7,140.4 216.3,140.0 216.9,140.5 217.5,140.1 218.1,139.4 218.7,140.1 219.3,139.9 219.9,140.1 220.5,139.4 221.1,139.3 221.7,140.8 222.3,139.8 222.9,139.8 223.5,139.5 224.1,140.2 224.7,140.7 225.3,139.5 225.9,140.0 226.5,140.0 227.1,140.4 227.7,140.1 228.3,139.5 228.9,139.4 229.5,140.3 230.1,139.2 230.7,140.5 231.3,139.2 231.9,139.4 232.5,139.8 233.1,140.4 233.7,140.1 234.3,140.2 234.9,140.3 235.5,140.2 236.1,139.1 236.7,140.3 237.3,139.2 238.0,139.3 238.6,139.0 239.2,139.0 239.8,140.4 240.4,139.6 241.0,139.1 241.6,139.0 242.2,140.3 242.8,139.9 243.4,140.4 244.0,139.0 244.6,139.1 245.2,139.3 245.8,139.2 246.4,139.0 247.0,139.2 247.6,139.9 248.2,139.1 248.8,139.1 249.4,139.7 250.0,139.4 250.6,139.0 251.2,139.7 251.8,139.6 252.4,139.4 253.0,139.5 253.6,138.8 254.2,139.8 254.8,139.1 255.4,139.3 256.0,138.8 256.6,140.2 257.2,139.7 257.8,139.4 258.4,139.6 259.0,140.3 259.6,139.0 260.2,139.4 260.8,139.9 261.4,139.3 262.0,139.9 262.6,140.2 263.2,138.8 263.8,139.2 264.4,139.2 265.0,139.9 265.6,140.0 266.2,139.8 266.8,140.2 267.4,139.0 268.1,139.4 268.7,140.1 269.3,139.9 269.9,138.9 270.5,140.3 271.1,139.9 271.7,140.1 272.3,139.3 272.9,139.7 273.5,140.2 274.1,140.1 274.7,139.6 275.3,140.1 275.9,140.3 276.5,140.0 277.1,139.7 277.7,140.2 278.3,138.9 278.9,139.3 279.5,139.6 280.1,138.9 280.7,139.9 281.3,138.8 281.9,139.7 282.5,139.1 283.1,139.2 283.7,139.6 284.3,139.0 284.9,139.4 285.5,140.0 286.1,140.2 286.7,139.1 287.3,139.2 287.9,139.7 288.5,138.9 289.1,140.0 289.7,138.9 290.3,139.5 290.9,139.2 291.5,138.6 292.1,138.6 292.7,138.6 293.3,139.1 293.9,139.1 294.5,140.2 295.1,139.6 295.7,138.7 296.3,139.7 296.9,139.0 297.5,139.4 298.1,139.7 298.7,140.0 299.3,140.1 299.9,139.3 300.5,139.1 301.1,139.2 301.7,139.1 302.4,139.8 303.0,139.3 303.6,139.7 304.2,138.8 304.8,139.8 305.4,140.1 306.0,138.9 306.6,139.5 307.2,138.8 307.8,138.6 308.4,139.2 309.0,138.8 309.6,139.7 310.2,139.5 310.8,139.6 311.4,140.1 312.0,138.6 312.6,138.7 313.2,138.6 313.8,139.3 314.4,139.8 315.0,139.6 315.6,139.4 316.2,139.9 316.8,139.1 317.4,138.7 318.0,139.5 318.6,138.5 319.2,138.9 319.8,138.5"/>
<polygon fill="#008000" points="128.0,151.6 128.5,151.4 129.0,150.9 129.5,150.0 130.0,149.8 130.5,149.4 131.0,148.5 131.5,148.0 132.0,147.0 132.5,146.8 133.0,145.5 133.5,145.2 134.0,144.9 134.5,143.8 135.0,143.8 135.5,143.6 136.0,142.3 136.5,142.5 137.0,142.4 137.5,142.6 138.0,142.7 138.5,143.4 139.0,142.9 139.5,143.3 140.0,142.8 140.5,143.3 141.0,143.0 141.5,142.8 142.0,142.4 142.5,143.0 143.0,142.0 143.5,142.7 144.0,141.6 144.5,141.6 145.0,141.9 145.5,142.1 146.0,141.0 146.5,140.8 147.0,141.3 147.5,141.4 148.0,140.4 148.5,140.7 149.0,140.2 149.5,139.9 150.0,139.6 150.5,140.6 151.0,139.9 151.5,140.5 152.0,139.5 152.5,139.6 153.0,140.5 153.5,139.7 154.0,139.8 154.5,140.2 155.0,139.8 155.5,140.2 156.0,139.9 156.5,139.5 157.0,140.3 157.5,140.0 158.0,139.7 158.5,140.4 159.0,139.4 159.5,139.9 160.0,140.1 160.5,140.2 161.0,139.7 161.5,139.6 162.0,139.6 162.5,139.6 163.0,140.1 163.5,139.9 164.0,139.6 164.5,139.4 165.0,139.2 165.5,140.1 166.0,139.5 166.5,139.2 167.0,140.1 167.5,139.3 168.0,139.3 168.5,139.4 169.0,139.2 169.5,139.5 170.0,139.8 170.5,139.7 171.0,139.3 171.5,139.1 172.0,139.8 172.5,138.9 173.0,139.6 173.5,138.9 174.0,139.3 174.5,139.3 175.0,139.8 175.5,139.0 176.0,138.9 176.5,138.9 177.0,139.3 177.5,139.9 178.0,139.8 178.5,139.6 179.0,139.3 179.5,139.5 180.0,139.3 180.5,139.3 181.0,139.5 181.5,139.6 182.0,138.8 182.5,138.7 183.0,139.7 183.5,139.1 184.0,139.3 184.5,139.5 185.0,139.5 185.5,138.6 186.0,138.7 186.5,138.7 187.0,139.4 187.5,139.3 188.0,139.1 188.5,139.0 189.0,139.3 189.5,138.7 190.0,139.1 190.5,138.5 191.0,139.4 191.5,138.6 192.0,139.5 192.5,139.3 193.0,139.4 193.5,138.5 194.0,138.6 194.5,139.4 195.0,138.5 195.5,138.6 196.0,139.1 196.5,138.8 197.0,138.8 197.5,138.8 198.0,139.1 198.5,138.9 199.0,138.3 199.5,138.7 200.0,138.3 200.5,139.3 201.0,138.3 201.5,138.6 202.0,138.4 202.5,139.1 203.0,138.4 203.5,138.2 204.0,138.4 204.5,139.0 205.0,138.4 205.5,139.0 206.0,138.5 206.5,138.5 207.0,139.0 207.5,139.0 208.0,138.8 208.5,139.1 209.0,139.2 209.5,139.0 210.0,138.4 210.5,139.0 211.0,138.3 211.5,139.0 212.0,138.1 212.5,138.4 213.0,139.1 213.5,138.9 214.0,138.3 214.5,138.4 215.0,138.1 215.5,138.5 216.0,138.4 216.5,138.3 217.0,138.7 217.5,138.5 218.0,138.3 218.5,138.3 219.0,138.1 219.5,138.5 220.0,138.9 220.5,138.4 221.0,137.9 221.5,138.8 222.0,138.4 222.5,138.7 223.0,138.8 223.5,138.9 224.0,138.6 224.5,138.4 225.0,138.4 225.5,138.8 226.0,138.7 226.5,138.5 227.0,137.9 227.5,138.2 228.0,138.0 228.5,138.0 229.0,138.3 229.5,138.1 230.0,137.8 230.5,138.6 231.0,138.6 231.5,137.8 232.0,138.5 232.5,138.8 233.0,137.8 233.5,138.1 234.0,138.7 234.5,137.8 235.0,138.0 235.5,137.8 236.0,138.1 236.5,138.1 237.0,138.7 237.5,138.6 238.0,137.9 238.5,138.1 239.0,138.3 239.5,138.7 240.0,137.6 240.5,137.8 241.0,138.5 241.5,137.8 242.0,138.4 242.5,137.9 243.0,138.6 243.5,138.3 244.0,138.4 244.5,138.1 245.0,138.1 245.5,137.9 246.0,137.7 246.5,137.7 247.0,138.6 247.5,138.5 248.0,138.4 248.5,138.1 249.0,138.3 249.5,138.4 250.0,137.5 250.5,138.0 251.0,138.5 251.5,138.2 252.0,138.2 252.5,138.1 253.0,138.4 253.5,138.3 254.0,137.7 254.5,138.2 255.0,137.5 255.5,137.9 256.0,137.7 256.5,137.9 257.0,138.4 257.5,137.4 258.0,138.1 258.5,138.1 259.0,137.8 259.5,138.1 260.0,138.2 260.5,138.1 261.0,138.3 261.5,138.3 262.0,137.9 262.5,138.1 263.0,138.3 263.5,137.8 264.0,138.3 264.5,138.5 265.0,138.3 265.5,138.5 266.0,138.4 266.5,137.4 267.0,137.8 267.5,137.8 268.0,138.1 268.5,137.7 269.0,137.5 269.5,137.8 270.0,137.7 270.5,137.6 271.0,137.6 271.5,137.7 272.0,137.7 272.5,137.9 273.0,137.9 273.5,137.7 274.0,138.2 274.5,138.1 275.0,138.3 275.5,137.4 276.0,138.2 276.5,138.4 277.0,137.5 277.5,138.0 278.0,137.5 278.5,137.9 279.0,138.4 279.5,137.4 280.0,137.6 280.5,137.7 281.0,137.7 281.5,138.3 282.0,138.3 282.5,137.6 283.0,137.4 283.5,137.4 284.0,138.3 284.5,138.1 285.0,137.3 285.5,137.4 286.0,138.2 286.5,137.8 287.0,138.1 287.5,137.9 288.0,138.0 288.5,138.1 289.0,137.6 289.5,137.9 290.0,137.9 290.5,137.6 291.0,137.7 291.5,137.7 292.0,137.3 292.5,138.1 293.0,137.9 293.5,137.4 294.0,137.9 294.5,138.3 295.0,137.5 295.5,137.4 296.0,137.8 296.5,137.7 297.0,137.6 297.5,137.8 298.0,137.3 298.5,138.2 299.0,138.0 299.5,138.0 300.0,138.0 300.5,137.4 301.0,138.2 301.5,137.8 302.0,137.6 302.5,137.3 303.0,137.3 303.5,137.6 304.0,137.6 304.5,137.7 305.0,137.9 305.5,137.8 306.0,137.7 306.5,137.5 307.0,137.5 307.5,138.1 308.0,137.8 308.5,138.0 309.0,138.0 309.5,137.4 310.0,137.5 310.5,137.3 311.0,137.6 311.5,137.3 312.0,138.1 312.5,137.6 313.0,137.4 313.5,138.2 314.0,137.2 314.5,137.3 315.0,137.8 315.5,137.3 316.0,137.3 316.5,137.8 317.0,138.0 317.5,137.3 318.0,137.3 318.5,137.2 319.0,137.9 319.5,137.7 319.5,141.4 319.0,141.2 318.5,141.3 318.0,140.9 317.5,140.7 317.0,141.3 316.5,141.1 316.0,140.5 315.5,141.1 315.0,140.9 314.5,141.3 314.0,140.5 313.5,140.6 313.0,141.2 312.5,141.5 312.0,141.4 311.5,141.4 311.0,140.4 310.5,141.2 310.0,141.0 309.5,140.9 309.0,140.6 308.5,141.4 308.0,141.0 307.5,140.4 307.0,140.8 306.5,141.3 306.0,141.3 305.5,140.5 305.0,140.5 304.5,141.1 304.0,140.6 303.5,140.5 303.0,141.4 302.5,140.7 302.0,141.4 301.5,140.5 301.0,141.4 300.5,141.5 300.0,140.7 299.5,141.4 299.0,140.7 298.5,140.5 298.0,141.1 297.5,140.6 297.0,141.4 296.5,141.5 296.0,140.9 295.5,140.5 295.0,140.7 294.5,140.8 294.0,141.1 293.5,140.5 293.0,140.5 292.5,141.5 292.0,141.5 291.5,140.7 291.0,141.3 290.5,141.5 290.0,140.8 289.5,140.9 289.0,141.3 288.5,141.3 288.0,140.6 287.5,141.5 287.0,140.5 286.5,140.5 286.0,141.0 285.5,141.5 285.0,141.4 284.5,141.1 284.0,140.6 283.5,140.6 283.0,141.1 282.5,141.4 282.0,141.5 281.5,141.6 281.0,141.2 280.5,141.2 280.0,140.8 279.5,141.3 279.0,140.9 278.5,140.8 278.0,141.6 277.5,141.2 277.0,141.2 276.5,141.4 276.0,141.5 275.5,140.7 275.0,141.4 274.5,141.2 274.0,141.4 273.5,140.9 273.0,140.6 272.5,140.8 272.0,141.1 271.5,141.5 271.0,140.6 270.5,141.1 270.0,141.6 269.5,141.4 269.0,141.2 268.5,141.0 268.0,140.7 267.5,140.9 267.0,141.7 266.5,140.9 266.0,141.0 265.5,141.1 265.0,141.4 264.5,141.2 264.0,141.3 263.5,140.6 263.0,141.3 262.5,141.3 262.0,140.6 261.5,141.7 261.0,141.7 260.5,141.3 260.0,141.6 259.5,140.7 259.0,140.7 258.5,141.0 258.0,141.4 257.5,141.6 257.0,141.4 256.5,141.4 256.0,140.9 255.5,140.9 255.0,140.6 254.5,141.2 254.0,141.1 253.5,141.1 253.0,141.4 252.5,140.7 252.0,141.0 251.5,141.4 251.0,141.1 250.5,141.6 250.0,141.5 249.5,140.7 249.0,141.6 248.5,140.8 248.0,141.6 247.5,141.6 247.0,141.7 246.5,141.0 246.0,141.8 245.5,141.4 245.0,141.5 244.5,141.0 244.0,141.6 243.5,141.3 243.0,141.8 242.5,140.9 242.0,141.8 241.5,141.1 241.0,140.8 240.5,141.6 240.0,140.9 239.5,141.2 239.0,141.2 238.5,141.5 238.0,141.1 237.5,141.8 237.0,141.9 236.5,141.5 236.0,141.4 235.5,141.2 235.0,141.6 234.5,141.4 234.0,141.9 233.5,141.0 233.0,141.4 232.5,141.5 232.0,141.0 231.5,141.7 231.0,141.3 230.5,141.9 230.0,141.2 229.5,141.9 229.0,141.8 228.5,141.8 228.0,141.6 227.5,142.1 227.0,141.5 226.5,142.0 226.0,141.7 225.5,141.1 225.0,142.0 224.5,141.7 224.0,141.6 223.5,141.9 223.0,142.0 222.5,141.6 222.0,141.5 221.5,141.7 221.0,141.2 220.5,141.7 220.0,141.5 219.5,141.2 219.0,141.2 218.5,141.5 218.0,141.2 217.5,141.6 217.0,141.5 216.5,141.2 216.0,141.8 215.5,141.8 215.0,141.3 214.5,141.5 214.0,142.0 213.5,141.3 213.0,141.9 212.5,141.7 212.0,141.6 211.5,141.8 211.0,142.3 210.5,142.0 210.0,141.8 209.5,141.4 209.0,141.5 208.5,141.5 208.0,142.4 207.5,142.3 207.0,141.6 206.5,141.9 206.0,141.9 205.5,142.2 205.0,141.7 204.5,141.5 204.0,142.2 203.5,142.2 203.0,141.5 202.5,141.8 202.0,142.1 201.5,141.8 201.0,141.8 200.5,142.4 200.0,141.9 199.5,141.5 199.0,141.9 198.5,141.6 198.0,141.9 197.5,142.3 197.0,141.9 196.5,142.0 196.0,142.4 195.5,142.3 195.0,142.0 194.5,142.1 194.0,142.6 193.5,141.8 193.0,141.8 192.5,142.5 192.0,141.8 191.5,142.6 191.0,142.1 190.5,142.8 190.0,142.3 189.5,141.9 189.0,141.8 188.5,142.0 188.0,142.0 187.5,142.2 187.0,142.4 186.5,142.1 186.0,142.8 185.5,142.4 185.0,142.7 184.5,142.2 184.0,142.1 183.5,142.4 183.0,142.2 182.5,142.0 182.0,142.0 181.5,142.8 181.0,142.5 180.5,142.7 180.0,142.4 179.5,142.1 179.0,142.8 178.5,142.7 178.0,143.0 177.5,142.6 177.0,142.2 176.5,142.1 176.0,142.6 175.5,142.9 175.0,142.7 174.5,143.1 174.0,143.1 173.5,142.6 173.0,142.5 172.5,142.6 172.0,142.8 171.5,142.2 171.0,142.4 170.5,143.1 170.0,142.2 169.5,142.5 169.0,142.5 168.5,142.8 168.0,143.2 167.5,143.1 167.0,142.4 166.5,143.0 166.0,142.4 165.5,142.6 165.0,143.2 164.5,142.7 164.0,143.1 163.5,143.3 163.0,143.3 162.5,142.8 162.0,143.1 161.5,142.9 161.0,143.2 160.5,143.5 160.0,143.1 159.5,143.2 159.0,143.3 158.5,143.2 158.0,142.7 157.5,142.9 157.0,143.1 156.5,142.8 156.0,142.7 155.5,143.4 155.0,143.1 154.5,143.5 154.0,142.8 153.5,143.3 153.0,143.6 152.5,143.3 152.0,143.2 151.5,143.6 151.0,143.5 150.5,143.4 150.0,143.8 149.5,143.6 149.0,144.0 148.5,143.7 148.0,143.3 147.5,144.3 147.0,144.1 146.5,143.8 146.0,144.7 145.5,144.4 145.0,144.2 144.5,144.8 144.0,145.1 143.5,145.4 143.0,144.8 142.5,145.3 142.0,145.0 141.5,146.1 141.0,145.5 140.5,146.2 140.0,145.7 139.5,145.3 139.0,145.1 138.5,144.9 138.0,145.2 137.5,145.1 137.0,145.5 136.5,145.3 136.0,144.9 135.5,145.8 135.0,146.3 134.5,146.2 134.0,147.2 133.5,147.9 133.0,148.3 132.5,148.8 132.0,149.7 131.5,150.5 131.0,151.0 130.5,151.2 130.0,151.9 129.5,151.8 129.0,153.2 128.5,153.0 128.0,153.4"/>
<polygon fill="#808000" points="54.7,206.3 54.7,206.0 55.2,205.0 55.7,204.0 56.2,203.0 56.7,201.9 57.2,200.9 57.7,199.8 58.2,198.8 58.7,197.7 59.2,196.6 59.7,196.6 60.2,198.2 60.7,199.7 61.2,201.3 61.7,202.1 62.2,200.4 62.7,198.6 63.2,198.0 63.7,199.3 64.2,200.6 64.7,201.9 65.2,203.3 65.7,204.3 66.2,204.2 66.2,206.3"/>
<polyline fill="none" stroke="#808000" stroke-width="1.1" stroke-linejoin="round" points="54.7,206.2 55.0,205.6 55.3,205.0 55.6,204.0 55.9,203.5 56.2,202.7 56.5,202.6 56.8,201.8 57.0,201.5 57.3,200.5 57.6,200.0 57.9,199.7 58.1,199.2 58.4,198.5 58.7,198.0 59.0,197.4 59.2,196.4 59.5,196.1 59.7,196.3 59.9,197.3 60.1,198.0 60.3,198.4 60.5,198.7 60.6,199.6 60.8,199.9 61.0,200.7 61.2,201.1 61.4,201.9 61.6,202.7 61.8,202.0 62.0,201.5 62.1,200.6 62.3,200.0 62.5,199.1 62.6,198.9 62.8,198.2 63.0,197.4 63.2,197.9 63.4,198.6 63.6,198.9 63.9,199.5 64.1,200.1 64.3,200.9 64.5,201.2 64.7,202.2 64.9,202.7 65.2,203.4 65.4,203.8 65.6,204.1 66.2,204.1 66.9,204.3 67.5,204.1"/>
<polyline fill="none" stroke="#808000" stroke-width="2.1" stroke-linejoin="round" points="67.5,204.2 67.8,203.6 68.1,202.2 68.4,201.8 68.8,201.6 69.1,201.7 69.4,201.3 69.7,200.2 70.0,199.1 70.2,198.2 70.4,198.4 70.5,197.6 70.7,197.9 70.9,196.2 71.1,195.6 71.3,194.7 71.5,194.2 71.6,194.8 71.8,194.4 72.0,192.6 72.3,192.9 72.6,194.4 72.9,194.4 73.2,195.5 73.5,196.5 73.8,195.6 74.0,194.2 74.3,194.1 74.6,193.0 74.9,193.1 75.1,191.7 75.4,192.1 75.6,192.4 75.8,193.3 76.0,193.0 76.2,194.6 76.3,194.6 76.5,194.7 76.7,195.9 76.9,195.9 77.1,196.2 77.3,196.7 77.5,198.2 77.7,198.2 77.8,198.6 78.0,200.3 78.2,199.8 78.4,201.4 78.6,200.1 78.8,199.6 79.0,200.0 79.2,199.2 79.3,198.7 79.5,198.3 79.7,197.1 79.9,197.1 80.1,196.0 80.3,195.4 80.5,194.4 80.7,193.9 80.9,193.6 81.0,192.6 81.2,192.6 81.4,192.4 81.6,191.6 81.8,190.2 82.0,189.3 82.2,189.3 82.4,188.8 82.6,188.9 82.7,187.9 82.9,187.3 83.1,186.8 83.3,186.2 83.5,185.8 83.9,185.1 84.3,184.6 84.7,183.6 85.1,183.0 85.4,183.0 85.8,183.3 86.2,182.9 86.6,181.3 87.0,181.3 87.2,181.8 87.4,182.3 87.6,182.5 87.8,184.0 88.0,183.5 88.2,184.3 88.3,185.0 88.5,185.5 88.7,186.0 88.9,186.5 89.1,187.8 89.3,187.8 89.5,189.1 89.7,188.5 90.0,188.0 90.2,187.2 90.5,186.8 90.7,185.8 91.0,185.5 91.2,185.3 91.5,184.0 91.7,184.2 92.0,183.4 92.2,183.5 92.5,182.4 92.7,181.7 93.0,181.5 93.2,180.2 93.4,179.7 93.7,179.3 93.9,179.2 94.2,178.6 94.4,177.2 94.7,177.9 94.9,177.3 95.2,176.0 95.4,176.2 95.7,175.1 95.9,174.1 96.2,173.1 96.4,172.4 96.6,172.8 96.7,172.4 96.9,171.6 97.1,171.3 97.3,170.2 97.4,170.1 97.6,169.3 97.8,168.7 98.0,168.0 98.1,167.6 98.3,166.8 98.5,165.5 98.7,165.9 98.8,165.3 99.0,164.3 99.2,165.7 99.4,165.5 99.6,165.6 99.9,166.7 100.1,167.1 100.3,167.3 100.5,169.1 100.7,168.5 100.9,169.9 101.1,169.7 101.4,170.8 101.6,172.1 101.8,171.3 102.0,173.1 102.2,171.2 102.5,172.1 102.7,171.5 102.9,170.2 103.2,169.9 103.4,169.1 103.6,168.1 103.9,167.8 104.1,167.4 104.4,167.5 104.6,165.7 104.8,165.9 105.1,165.2 105.3,164.8 105.5,164.6 105.8,163.7 106.0,162.7 106.2,163.2 106.4,162.0 106.7,160.9 106.9,160.8 107.1,160.7 107.3,158.8 107.5,159.2 107.7,158.4 107.9,157.5 108.2,156.7 108.4,156.2 108.6,156.0 108.8,155.4 109.0,155.1 109.2,154.0 109.4,153.9 109.7,153.1 109.9,153.0 110.1,152.4 110.3,150.9 110.5,151.5 110.7,150.2 110.9,149.3 111.2,148.6 111.4,148.7 111.6,147.7 111.8,147.5 112.0,146.2 112.3,147.8 112.5,147.4 112.8,148.9 113.0,148.8 113.3,149.3 113.5,150.2 113.8,150.7 114.1,151.3 114.3,151.9 114.6,153.1 114.8,153.3 115.1,152.8 115.4,153.7 115.6,151.6 115.9,151.1 116.1,151.8 116.4,150.4 116.7,149.4 116.9,149.1 117.2,149.1 117.5,149.1 117.7,147.2 118.0,146.9 118.2,146.1 118.5,145.6 118.8,145.4 119.0,145.2 119.3,145.4 119.5,144.3 119.8,144.1 120.1,143.1 120.3,143.1 120.6,142.1 120.8,140.9 121.1,140.5 121.4,140.2 121.6,139.0 121.9,139.8 122.2,138.5 122.4,137.5 122.7,137.4 122.9,137.3 123.2,135.9 123.7,136.8 124.2,136.4 124.7,137.0 125.1,137.3 125.6,138.2 126.1,138.8 126.6,138.5 127.1,138.9 127.6,138.4 128.2,138.3 128.7,138.4 129.2,137.0 129.7,137.7 130.2,136.5 130.8,136.2 131.3,135.4 131.8,134.9 132.3,135.4 132.8,134.2 133.4,133.8 133.9,133.5 134.4,133.9 134.9,133.1 135.4,132.8 136.0,133.3 136.5,132.4 137.0,131.6 137.6,132.4 138.2,132.8 138.9,132.1 139.5,131.7 140.1,131.7 140.7,131.9 141.3,132.0 142.0,131.8 142.6,130.9 143.2,131.6 143.8,130.4 144.4,130.3 145.0,130.9 145.7,130.2 146.3,130.7 146.9,130.2 147.5,131.1 148.1,130.2 148.8,130.7 149.4,130.8 150.0,129.9 150.6,130.4 151.2,130.0 151.8,129.8 152.4,129.3 153.0,130.2 153.7,130.6 154.3,130.2 154.9,129.6 155.5,129.9 156.1,129.6 156.7,129.7 157.3,130.3 157.9,129.0 158.5,129.8 159.1,129.8 159.8,129.2 160.4,130.1 161.0,129.3 161.6,129.6 162.2,129.3 162.8,129.8 163.4,129.6 164.0,130.0 164.6,129.5 165.2,130.1 165.9,129.7 166.5,129.0 167.1,129.6 167.7,129.2 168.3,129.2 168.9,130.3 169.5,129.5 170.1,129.9 170.7,129.0 171.3,129.7 172.0,128.9 172.6,129.0 173.2,128.8 173.8,128.7 174.4,130.1 175.0,130.1 175.6,129.2 176.2,128.6 176.8,129.7 177.4,129.6 178.0,128.6 178.7,129.8 179.3,128.6 179.9,128.9 180.5,129.8 181.1,129.7 181.7,128.9 182.3,129.3 182.9,129.8 183.5,129.4 184.1,129.3 184.8,128.7 185.4,128.5 186.0,128.7 186.6,129.3 187.2,129.4 187.8,129.1 188.4,129.4 189.0,129.3 189.6,129.4 190.2,129.0 190.9,129.7 191.5,129.2 192.1,129.7 192.7,129.9 193.3,129.6 193.9,129.5 194.5,129.4 195.1,129.2 195.7,128.7 196.3,128.4 197.0,129.3 197.6,128.6 198.2,129.2 198.8,129.1 199.4,129.2 200.0,128.9 200.6,128.6 201.2,128.7 201.8,129.3 202.4,129.6 203.0,128.7 203.6,128.7 204.2,128.9 204.8,128.9 205.4,129.2 206.0,129.4 206.6,129.4 207.2,129.5 207.8,129.3 208.4,129.7 209.0,128.9 209.6,128.9 210.2,129.2 210.8,128.7 211.4,129.5 212.0,128.8 212.7,129.0 213.3,129.0 213.9,128.7 214.5,128.2 215.1,128.6 215.7,128.9 216.3,129.7 216.9,128.4 217.5,129.6 218.1,129.7 218.7,129.4 219.3,128.6 219.9,128.2 220.5,129.5 221.1,128.2 221.7,128.6 222.3,129.6 222.9,129.2 223.5,129.4 224.1,129.4 224.7,128.4 225.3,128.9 225.9,128.2 226.5,128.7 227.1,128.9 227.7,129.4 228.3,128.5 228.9,129.2 229.5,128.3 230.1,128.5 230.7,128.2 231.3,129.0 231.9,129.0 232.5,129.2 233.1,128.7 233.7,129.6 234.3,129.2 234.9,129.0 235.5,129.5 236.1,128.3 236.7,128.5 237.3,128.9 238.0,129.0 238.6,129.6 239.2,129.1 239.8,128.1 240.4,129.5 241.0,128.8 241.6,128.4 242.2,129.3 242.8,129.0 243.4,129.4 244.0,128.9 244.6,128.4 245.2,128.8 245.8,128.8 246.4,128.6 247.0,128.9 247.6,128.2 248.2,128.4 248.8,128.2 249.4,128.0 250.0,128.8 250.6,129.2 251.2,128.6 251.8,129.4 252.4,129.0 253.0,129.1 253.6,128.5 254.2,129.4 254.8,128.6 255.4,129.4 256.0,128.4 256.6,129.5 257.2,129.1 257.8,128.3 258.4,129.2 259.0,128.2 259.6,128.6 260.2,128.6 260.8,128.5 261.4,128.6 262.0,128.3 262.6,128.6 263.2,128.1 263.8,129.3 264.4,128.6 265.0,129.1 265.6,128.7 266.2,129.6 266.8,129.4 267.4,129.1 268.1,129.3 268.7,129.5 269.3,129.5 269.9,128.7 270.5,128.9 271.1,128.1 271.7,128.6 272.3,128.5 272.9,129.0 273.5,128.0 274.1,129.2 274.7,128.1 275.3,128.7 275.9,128.8 276.5,129.3 277.1,129.0 277.7,128.2 278.3,129.1 278.9,128.4 279.5,129.0 280.1,128.7 280.7,129.5 281.3,128.7 281.9,128.4 282.5,128.5 283.1,129.5 283.7,128.6 284.3,128.4 284.9,128.9 285.5,129.1 286.1,129.5 286.7,128.1 287.3,128.5 287.9,129.2 288.5,128.8 289.1,129.1 289.7,129.1 290.3,128.1 290.9,128.1 291.5,128.3 292.1,128.5 292.7,128.3 293.3,128.5 293.9,128.2 294.5,128.0 295.1,128.8 295.7,129.2 296.3,128.3 296.9,128.2 297.5,129.2 298.1,128.1 298.7,128.2 299.3,128.8 299.9,128.5 300.5,129.3 301.1,128.8 301.7,128.8 302.4,128.6 303.0,128.0 303.6,129.3 304.2,128.6 304.8,129.3 305.4,128.2 306.0,128.7 306.6,128.9 307.2,128.2 307.8,128.1 308.4,129.5 309.0,129.5 309.6,129.6 310.2,128.9 310.8,129.2 311.4,129.0 312.0,128.8 312.6,128.3 313.2,129.0 313.8,128.7 314.4,129.1 315.0,128.1 315.6,128.5 316.2,128.2 316.8,129.2 317.4,128.8 318.0,128.5 318.6,129.3 319.2,128.8 319.8,128.5"/>
<polygon fill="#808000" points="128.0,136.7 128.5,136.2 129.0,136.4 129.5,135.8 130.0,135.5 130.5,134.8 131.0,134.8 131.5,134.5 132.0,134.2 132.5,133.7 133.0,133.4 133.5,132.9 134.0,132.5 134.5,132.7 135.0,132.2 135.5,132.0 136.0,131.3 136.5,130.7 137.0,130.5 137.5,130.8 138.0,130.5 138.5,130.1 139.0,130.6 139.5,130.2 140.0,130.0 140.5,129.8 141.0,129.9 141.5,129.9 142.0,129.8 142.5,129.9 143.0,129.5 143.5,129.1 144.0,129.1 144.5,128.8 145.0,129.2 145.5,129.3 146.0,128.8 146.5,128.9 147.0,128.8 147.5,128.4 148.0,128.6 148.5,128.4 149.0,128.4 149.5,128.4 150.0,128.1 150.5,127.9 151.0,127.8 151.5,128.0 152.0,128.1 152.5,127.7 153.0,128.2 153.5,127.8 154.0,127.6 154.5,127.8 155.0,127.6 155.5,128.1 156.0,127.7 156.5,128.1 157.0,128.2 157.5,127.6 158.0,128.0 158.5,128.0 159.0,128.2 159.5,127.8 160.0,128.0 160.5,128.1 161.0,128.1 161.5,127.7 162.0,127.8 162.5,128.1 163.0,127.9 163.5,127.5 164.0,127.7 164.5,127.5 165.0,127.9 165.5,127.6 166.0,127.9 166.5,127.9 167.0,127.3 167.5,127.6 168.0,127.8 168.5,127.3 169.0,127.3 169.5,127.7 170.0,127.6 170.5,127.6 171.0,127.4 171.5,127.3 172.0,127.4 172.5,127.6 173.0,127.6 173.5,127.7 174.0,127.5 174.5,127.7 175.0,127.7 175.5,127.6 176.0,127.3 176.5,127.2 177.0,127.1 177.5,127.3 178.0,127.6 178.5,127.3 179.0,127.1 179.5,127.6 180.0,127.0 180.5,127.3 181.0,127.3 181.5,127.1 182.0,127.4 182.5,127.6 183.0,127.4 183.5,127.0 184.0,127.5 184.5,127.6 185.0,127.0 185.5,127.3 186.0,127.4 186.5,127.0 187.0,127.0 187.5,127.1 188.0,126.9 188.5,127.0 189.0,127.5 189.5,127.3 190.0,127.1 190.5,127.0 191.0,127.1 191.5,127.4 192.0,127.1 192.5,127.5 193.0,126.9 193.5,126.8 194.0,126.8 194.5,127.1 195.0,126.9 195.5,127.0 196.0,126.8 196.5,127.1 197.0,127.0 197.5,126.8 198.0,126.9 198.5,126.8 199.0,127.4 199.5,126.8 200.0,127.1 200.5,126.9 201.0,126.9 201.5,127.2 202.0,127.3 202.5,126.8 203.0,127.1 203.5,127.1 204.0,126.8 204.5,126.7 205.0,127.1 205.5,127.3 206.0,126.8 206.5,127.1 207.0,126.9 207.5,126.9 208.0,126.8 208.5,127.0 209.0,126.8 209.5,127.3 210.0,127.2 210.5,127.2 211.0,126.9 211.5,126.9 212.0,126.9 212.5,127.2 213.0,127.0 213.5,127.1 214.0,127.2 214.5,127.2 215.0,127.3 215.5,127.1 216.0,127.0 216.5,126.8 217.0,127.0 217.5,127.1 218.0,126.6 218.5,127.1 219.0,127.1 219.5,126.7 220.0,127.3 220.5,127.0 221.0,127.0 221.5,127.0 222.0,127.2 222.5,127.2 223.0,127.2 223.5,126.7 224.0,126.8 224.5,127.2 225.0,126.9 225.5,127.1 226.0,127.2 226.5,126.7 227.0,126.8 227.5,127.1 228.0,126.8 228.5,127.1 229.0,126.6 229.5,127.1 230.0,127.1 230.5,126.6 231.0,126.8 231.5,126.8 232.0,126.6 232.5,127.1 233.0,126.9 233.5,126.8 234.0,127.1 234.5,127.2 235.0,127.1 235.5,126.9 236.0,126.6 236.5,127.0 237.0,126.7 237.5,126.9 238.0,126.9 238.5,126.6 239.0,127.0 239.5,126.6 240.0,126.8 240.5,126.8 241.0,126.6 241.5,127.2 242.0,127.2 242.5,127.0 243.0,127.1 243.5,127.0 244.0,127.2 244.5,126.8 245.0,126.9 245.5,127.0 246.0,126.5 246.5,126.6 247.0,126.9 247.5,127.1 248.0,126.6 248.5,126.6 249.0,126.6 249.5,126.8 250.0,127.0 250.5,126.7 251.0,126.6 251.5,126.8 252.0,126.6 252.5,127.1 253.0,127.1 253.5,126.9 254.0,126.8 254.5,126.6 255.0,126.7 255.5,126.7 256.0,126.9 256.5,126.7 257.0,126.6 257.5,127.0 258.0,126.6 258.5,126.7 259.0,127.1 259.5,127.1 260.0,126.5 260.5,126.8 261.0,126.7 261.5,127.1 262.0,126.7 262.5,127.1 263.0,126.8 263.5,126.7 264.0,127.0 264.5,126.7 265.0,127.2 265.5,126.7 266.0,126.9 266.5,127.1 267.0,127.1 267.5,127.2 268.0,126.5 268.5,127.2 269.0,127.0 269.5,126.5 270.0,126.7 270.5,126.9 271.0,126.9 271.5,127.1 272.0,127.1 272.5,126.7 273.0,126.5 273.5,126.5 274.0,127.1 274.5,126.5 275.0,127.0 275.5,126.6 276.0,126.9 276.5,126.8 277.0,127.0 277.5,127.2 278.0,127.0 278.5,127.1 279.0,126.6 279.5,127.1 280.0,127.1 280.5,126.7 281.0,127.0 281.5,126.8 282.0,127.1 282.5,127.2 283.0,126.9 283.5,126.7 284.0,127.1 284.5,127.0 285.0,126.8 285.5,126.6 286.0,127.0 286.5,127.2 287.0,127.1 287.5,126.8 288.0,126.8 288.5,127.2 289.0,127.1 289.5,127.0 290.0,126.6 290.5,126.8 291.0,127.1 291.5,126.7 292.0,126.9 292.5,127.2 293.0,126.8 293.5,126.5 294.0,126.9 294.5,126.9 295.0,127.1 295.5,126.7 296.0,126.7 296.5,126.8 297.0,127.0 297.5,126.9 298.0,126.7 298.5,126.7 299.0,126.6 299.5,126.9 300.0,126.8 300.5,126.9 301.0,126.7 301.5,126.9 302.0,126.6 302.5,126.9 303.0,127.0 303.5,127.1 304.0,126.7 304.5,127.2 305.0,126.9 305.5,126.7 306.0,126.7 306.5,126.9 307.0,126.9 307.5,126.5 308.0,126.6 308.5,127.1 309.0,127.1 309.5,126.7 310.0,126.7 310.5,126.9 311.0,126.5 311.5,127.2 312.0,126.7 312.5,126.9 313.0,126.8 313.5,126.8 314.0,126.7 314.5,127.0 315.0,126.6 315.5,127.2 316.0,127.0 316.5,126.6 317.0,126.5 317.5,126.5 318.0,126.6 318.5,126.8 319.0,126.6 319.5,127.2 319.5,131.1 319.0,130.5 318.5,130.6 318.0,130.6 317.5,130.5 317.0,130.8 316.5,130.8 316.0,130.9 315.5,130.9 315.0,130.8 314.5,130.5 314.0,130.6 313.5,130.6 313.0,130.8 312.5,130.9 312.0,131.1 311.5,130.7 311.0,130.7 310.5,130.9 310.0,130.9 309.5,131.0 309.0,130.5 308.5,130.7 308.0,130.7 307.5,130.5 307.0,131.0 306.5,130.9 306.0,130.6 305.5,130.5 305.0,130.8 304.5,131.1 304.0,130.7 303.5,131.0 303.0,130.8 302.5,131.0 302.0,130.5 301.5,130.6 301.0,130.5 300.5,131.0 300.0,130.4 299.5,130.8 299.0,130.6 298.5,130.8 298.0,130.9 297.5,130.9 297.0,130.5 296.5,130.6 296.0,130.6 295.5,131.0 295.0,130.4 294.5,130.7 294.0,130.7 293.5,130.9 293.0,130.5 292.5,130.8 292.0,130.6 291.5,130.5 291.0,130.7 290.5,130.5 290.0,130.7 289.5,130.9 289.0,131.1 288.5,131.0 288.0,130.9 287.5,130.6 287.0,130.5 286.5,130.8 286.0,130.7 285.5,130.9 285.0,131.0 284.5,130.6 284.0,130.9 283.5,130.4 283.0,130.9 282.5,130.4 282.0,130.9 281.5,130.6 281.0,130.8 280.5,131.0 280.0,131.1 279.5,130.5 279.0,131.0 278.5,130.8 278.0,130.5 277.5,130.6 277.0,130.7 276.5,130.8 276.0,130.5 275.5,130.7 275.0,130.6 274.5,130.6 274.0,130.7 273.5,131.1 273.0,130.7 272.5,130.6 272.0,130.5 271.5,130.7 271.0,131.0 270.5,130.7 270.0,130.9 269.5,131.1 269.0,130.9 268.5,131.0 268.0,130.5 267.5,130.8 267.0,130.6 266.5,131.1 266.0,130.7 265.5,130.4 265.0,130.8 264.5,131.1 264.0,130.9 263.5,131.1 263.0,130.6 262.5,130.5 262.0,130.5 261.5,130.5 261.0,130.5 260.5,130.4 260.0,130.6 259.5,130.4 259.0,131.0 258.5,130.8 258.0,130.5 257.5,131.0 257.0,131.0 256.5,130.6 256.0,130.4 255.5,130.5 255.0,130.6 254.5,130.7 254.0,130.9 253.5,130.6 253.0,130.7 252.5,130.7 252.0,130.7 251.5,130.5 251.0,130.9 250.5,130.6 250.0,131.0 249.5,130.8 249.0,130.6 248.5,130.8 248.0,130.8 247.5,130.9 247.0,130.5 246.5,130.6 246.0,131.0 245.5,130.7 245.0,130.6 244.5,130.5 244.0,130.5 243.5,131.1 243.0,130.8 242.5,130.7 242.0,130.5 241.5,130.9 241.0,130.9 240.5,130.6 240.0,130.7 239.5,130.5 239.0,131.0 238.5,130.6 238.0,130.9 237.5,131.0 237.0,130.6 236.5,131.1 236.0,130.5 235.5,131.1 235.0,130.7 234.5,131.0 234.0,130.5 233.5,130.8 233.0,131.2 232.5,130.6 232.0,131.0 231.5,130.6 231.0,130.9 230.5,130.6 230.0,130.7 229.5,131.2 229.0,130.9 228.5,131.2 228.0,131.1 227.5,130.7 227.0,130.9 226.5,131.2 226.0,131.1 225.5,130.9 225.0,131.1 224.5,130.7 224.0,131.1 223.5,130.7 223.0,131.2 222.5,131.0 222.0,130.8 221.5,131.2 221.0,130.9 220.5,130.9 220.0,130.6 219.5,131.0 219.0,130.9 218.5,130.8 218.0,130.7 217.5,131.0 217.0,130.8 216.5,130.7 216.0,131.2 215.5,130.9 215.0,131.0 214.5,131.0 214.0,131.0 213.5,131.2 213.0,131.1 212.5,130.7 212.0,130.6 211.5,130.7 211.0,131.1 210.5,131.1 210.0,130.8 209.5,130.9 209.0,131.2 208.5,130.9 208.0,130.6 207.5,130.6 207.0,130.8 206.5,130.6 206.0,131.3 205.5,131.2 205.0,130.6 204.5,130.6 204.0,130.8 203.5,131.0 203.0,131.0 202.5,130.8 202.0,131.2 201.5,131.2 201.0,130.6 200.5,131.0 200.0,130.7 199.5,131.0 199.0,130.7 198.5,130.9 198.0,130.9 197.5,131.3 197.0,131.1 196.5,130.8 196.0,131.3 195.5,131.2 195.0,131.1 194.5,131.1 194.0,130.8 193.5,131.1 193.0,131.0 192.5,131.2 192.0,131.0 191.5,130.8 191.0,131.2 190.5,131.2 190.0,131.0 189.5,131.2 189.0,130.9 188.5,130.9 188.0,131.3 187.5,131.5 187.0,131.1 186.5,130.9 186.0,131.2 185.5,131.4 185.0,131.4 184.5,131.2 184.0,131.5 183.5,130.9 183.0,130.9 182.5,131.1 182.0,130.9 181.5,131.2 181.0,131.6 180.5,131.5 180.0,131.6 179.5,131.1 179.0,131.0 178.5,131.2 178.0,131.3 177.5,131.6 177.0,131.4 176.5,131.1 176.0,131.4 175.5,131.2 175.0,131.7 174.5,131.4 174.0,131.5 173.5,131.2 173.0,131.2 172.5,131.3 172.0,131.5 171.5,131.4 171.0,131.3 170.5,131.5 170.0,131.2 169.5,131.6 169.0,131.2 168.5,131.5 168.0,131.3 167.5,131.4 167.0,131.4 166.5,131.8 166.0,131.7 165.5,131.3 165.0,131.6 164.5,131.5 164.0,131.4 163.5,131.7 163.0,131.8 162.5,131.7 162.0,131.7 161.5,131.3 161.0,132.0 160.5,131.5 160.0,131.8 159.5,131.8 159.0,131.7 158.5,131.7 158.0,132.0 157.5,131.9 157.0,131.8 156.5,132.1 156.0,131.5 155.5,132.0 155.0,131.6 154.5,132.2 154.0,131.6 153.5,132.0 153.0,132.0 152.5,132.1 152.0,131.7 151.5,132.2 151.0,131.6 150.5,132.1 150.0,131.7 149.5,132.1 149.0,131.9 148.5,131.9 148.0,132.4 147.5,132.0 147.0,132.5 146.5,132.4 146.0,132.8 145.5,132.5 145.0,132.5 144.5,132.8 144.0,132.5 143.5,132.7 143.0,132.9 142.5,132.7 142.0,132.8 141.5,133.3 141.0,132.8 140.5,133.4 140.0,133.1 139.5,133.4 139.0,133.5 138.5,133.6 138.0,133.7 137.5,133.9 137.0,133.7 136.5,134.0 136.0,134.5 135.5,134.5 135.0,135.1 134.5,135.3 134.0,135.5 133.5,136.0 133.0,135.8 132.5,136.4 132.0,136.6 131.5,137.0 131.0,137.3 130.5,137.6 130.0,138.1 129.5,138.6 129.0,138.9 128.5,138.6 128.0,138.8"/>
<polyline fill="none" stroke="#ff00ff" stroke-width="1.7" stroke-linejoin="round" stroke-dasharray="2.3 0.9 1.3 0.7 3.4 1.1 1.9 0.8" points="54.9,11.3 54.9,11.2 54.9,11.8 54.9,12.8 54.9,12.6 54.9,13.2 54.9,14.1 54.9,14.9 54.9,15.3 54.9,15.8 54.9,15.9 54.9,16.7 54.9,17.3 54.9,17.8 54.9,18.4 54.9,18.7 54.9,19.2 55.0,19.7 55.0,19.9 55.0,20.6 55.0,21.3 55.0,21.6 55.0,21.6 55.0,22.5 55.0,23.3 55.0,23.7 55.0,24.0 55.0,24.8 55.0,25.2 55.0,25.3 55.0,26.2 55.0,26.8 55.0,26.6 55.0,27.8 55.0,27.9 55.0,28.8 55.0,28.6 55.0,29.4 55.0,29.8 54.7,30.6 55.3,31.1 55.5,31.2 54.8,31.9 55.4,32.7 55.6,33.3 55.1,33.7 55.4,34.0 55.2,34.8 55.4,34.7 54.5,35.7 55.4,35.8 55.4,36.7 54.7,36.7 55.2,37.6 54.7,38.3 54.8,38.8 55.6,38.7 55.3,39.5 55.5,40.0 55.0,40.3 55.5,40.9 55.5,41.1 55.5,41.6 55.3,42.9 54.9,43.1 55.0,43.2 55.5,44.0 55.4,44.1 54.7,44.8 55.5,45.1 54.6,45.9 55.0,46.8 55.5,46.8 55.4,47.4 55.4,48.1 54.7,48.5 55.0,49.0 55.2,49.7 55.0,50.0 55.5,50.6 54.8,50.7 54.9,51.9 55.0,52.3 55.7,52.7 55.0,53.2 55.2,53.9 55.2,54.1 55.4,54.6 54.8,55.1 55.1,55.6 55.5,55.8 55.0,56.3 55.7,57.0 55.1,57.9 55.5,58.3 55.2,58.2 55.1,58.7 55.1,59.5 55.2,60.4 55.2,60.2 54.9,61.1 55.2,61.4 55.2,61.9 55.4,62.6 54.7,63.0 55.0,63.6 55.2,64.2 55.8,64.7 55.4,65.0 54.8,65.7 54.9,65.9 55.4,66.3 55.7,67.0 55.8,67.1 55.3,67.9 55.4,68.6 55.4,69.4 55.3,69.4 55.6,70.0 55.1,70.8 55.0,70.7 55.4,71.8 55.7,72.3 55.5,72.5 55.1,72.7 55.3,73.8 55.4,74.4 55.7,74.5 55.5,74.9 55.8,75.8 55.0,76.3 55.6,76.4 55.7,76.9 55.6,77.5 55.6,78.3 55.9,78.5 55.3,79.2 55.6,79.2 55.5,79.8 55.6,80.2 55.2,80.8 55.2,81.6 55.9,82.1 55.6,82.7 55.4,82.9 55.7,83.3 55.8,84.3 55.9,84.2 56.0,84.8 55.1,85.6 55.4,85.7 55.7,86.5 55.6,87.0 55.7,87.7 55.8,88.2 55.9,88.5 55.7,88.7 55.1,89.5 55.8,89.8 56.1,90.3 55.6,91.0 56.1,91.2 55.3,92.1 55.5,92.4 55.2,93.3 55.6,93.6 55.3,94.3 55.2,94.7 55.2,95.0 55.5,95.9 55.6,96.3 55.1,96.3 56.2,96.9 55.2,97.3 55.5,98.0 55.6,98.3 55.7,99.0 55.3,99.5 55.8,100.1 56.0,100.5 55.4,101.4 55.3,101.3 55.6,101.9 55.4,102.8 55.5,103.0 55.9,103.2 55.7,103.7 55.8,104.7 56.2,105.4 55.4,105.5 56.0,105.9 56.3,106.5 56.2,106.7 55.7,107.7 56.2,108.0 56.2,108.7 55.7,109.2 55.9,109.2 56.3,110.3 56.3,110.3 56.2,110.6 55.9,111.3 55.9,111.9 55.9,112.4 56.2,113.1 55.7,113.3 55.6,113.9 55.8,114.5 56.2,115.4 55.7,115.3 56.0,115.6 56.1,116.1 56.1,117.1 55.8,117.9 55.8,117.6 55.5,118.3 56.2,119.2 55.8,119.8 55.6,119.8 56.1,120.5 56.3,120.8 56.5,121.6 56.2,122.1 55.7,122.6 56.5,122.6 55.9,123.3 55.8,124.2 56.2,124.2 56.3,125.3 55.6,125.1 56.2,126.3 56.1,126.5 56.0,127.1 56.6,127.6 56.4,128.0 56.5,128.7 56.1,128.8 55.9,129.9 56.3,129.7 56.2,130.4 56.3,130.8 56.6,131.5 56.5,131.8 56.6,132.5 56.2,132.9 56.7,133.6 56.2,133.9 56.2,134.3 56.2,134.8 55.8,135.4 55.7,136.1 55.8,136.8 56.0,136.8 56.3,137.3 56.5,137.8 56.7,138.1 55.8,139.3 56.5,139.3 56.5,139.9 56.3,140.3 56.4,141.1 56.7,141.3 56.4,142.1 56.7,142.5 56.7,143.3 56.2,143.4 56.9,144.1 56.4,144.7 56.5,145.0 56.6,145.3 56.3,145.6 56.6,146.8 56.7,147.4 56.7,146.2 56.2,146.3 56.0,145.8 56.8,144.7 56.1,144.7 56.6,143.6 56.5,143.3 56.9,143.0 56.0,142.4 56.0,142.3 56.9,141.7 56.0,141.4 56.3,140.6 56.8,140.0 56.1,139.3 56.8,138.7 56.4,138.8 56.5,137.7 56.8,137.4 56.9,136.9 57.0,136.8 56.3,136.0 56.6,135.2 57.1,134.9 56.8,134.1 57.2,134.4 56.9,133.2 56.9,133.0 56.7,132.3 56.3,132.3 56.8,131.7 57.0,130.9 56.8,130.3 56.9,129.9 57.1,129.3 56.6,128.7 56.3,128.3 56.3,127.9 56.7,127.8 56.3,127.4 56.4,126.8 56.7,125.8 57.0,125.4 56.3,124.7 57.1,124.7 57.4,123.8 57.2,123.4 56.9,122.8 56.8,122.8 56.6,121.9 57.4,121.5 57.3,121.0 56.8,120.7 57.1,119.9 57.5,119.2 57.4,119.2 57.2,118.5 57.3,117.6 57.2,117.8 56.9,117.2 57.2,116.5 57.3,116.0 56.6,115.5 57.3,114.7 57.0,114.8 56.5,114.3 56.9,113.4 57.3,113.1 56.9,112.2 57.0,112.3 57.7,111.7 57.4,111.1 57.6,110.2 56.8,110.3 56.6,109.5 57.1,109.3 57.3,108.3 56.7,108.0 57.3,107.5 57.3,106.6 57.1,106.8 57.0,105.8 56.9,105.9 57.7,104.9 57.1,104.4 57.7,104.3 57.8,103.8 57.5,102.7 57.8,102.2 57.6,101.9 56.8,101.6 57.1,101.3 57.0,100.6 57.3,99.6 57.2,99.3 57.7,99.2 57.9,98.2 57.1,97.9 57.2,97.3 57.7,96.6 57.5,96.2 57.3,95.8 57.4,95.9 57.8,94.9 58.1,94.3 57.2,94.1 57.8,93.7 57.6,93.2 57.4,92.9 57.8,92.2 57.6,91.8 57.6,91.4 57.5,90.9 57.4,90.0 57.7,89.5 58.0,89.3 57.3,88.7 57.7,87.9 57.3,87.8 58.2,87.2 57.8,86.2 57.5,85.9 57.3,85.4 57.6,84.9 57.3,84.2 58.3,84.0 57.5,83.5 57.6,83.0 57.4,82.7 58.3,82.1 58.3,81.8 57.9,81.0 58.0,80.4 57.4,80.0 58.2,79.6 57.4,79.3 57.4,78.5 57.5,77.8 57.6,77.6 58.2,77.3 57.9,76.1 57.4,75.7 57.5,75.2 57.7,74.7 58.4,74.4 58.0,74.2 57.6,73.5 57.5,74.0 58.5,74.6 57.8,75.1 58.0,75.5 58.2,76.2 58.5,76.9 58.6,77.2 58.3,77.7 57.8,77.8 58.5,78.4 57.6,79.2 57.7,79.3 58.6,79.8 58.5,80.3 58.5,80.9 58.2,81.6 58.4,81.8 58.4,82.2 57.9,83.2 57.8,83.4 57.8,84.1 57.9,84.4 58.8,85.0 58.3,85.1 58.0,85.7 58.4,86.2 57.9,86.7 58.6,87.6 58.1,87.9 58.1,88.5 58.4,88.7 58.0,89.6 58.1,90.1 58.0,90.2 57.9,91.3 58.4,91.1 58.2,92.1 58.1,92.8 57.9,93.0 58.5,93.3 59.0,94.0 58.0,94.7 57.9,95.1 58.8,95.6 57.9,95.7 58.8,96.8 58.2,97.3 58.8,97.2 58.9,97.6 58.3,98.3 58.2,99.0 58.0,99.9 58.2,100.1 58.4,100.8 58.6,101.0 58.9,101.5 58.5,101.7 58.9,102.6 58.6,103.4 58.6,103.7 58.3,103.9 58.8,104.3 59.2,105.4 58.8,105.7 58.4,106.2 59.1,106.5 58.8,107.1 58.4,107.1 58.4,108.0 58.9,108.8 58.5,108.7 58.7,109.2 58.5,110.0 59.0,110.2 58.4,111.0 58.8,111.2 59.0,112.1 59.3,112.9 59.0,112.7 58.9,113.3 58.6,113.7 59.1,114.6 58.6,114.8 59.4,115.5 59.1,115.8 59.4,116.7 58.9,116.7 58.9,117.1 58.6,118.2 58.5,118.3 58.8,119.4 58.6,119.4 59.0,119.6 59.1,120.2 58.8,120.9 59.6,121.5 58.8,121.9 58.8,122.2 58.9,123.2 58.9,123.3 58.6,124.2 58.9,124.3 59.5,125.4 59.2,125.2 59.5,126.2 58.6,126.3 59.5,127.0 58.8,127.9 58.9,127.7 59.4,128.9 59.4,128.6 58.7,129.3 59.4,130.4 58.8,130.6 59.4,130.6 59.7,131.4 59.1,132.2 59.3,132.6 58.8,133.1 58.9,133.8 59.6,134.1 59.5,134.9 59.7,135.2 59.2,135.1 59.9,135.7 58.9,136.6 59.9,137.0 59.1,137.1 59.0,137.9 59.2,138.3 59.8,139.4 60.0,139.3 59.7,139.7 59.4,140.5 59.3,141.2 59.2,141.7 59.8,142.1 59.0,142.2 59.9,143.4 59.2,143.6 59.8,144.3 59.1,144.3 59.1,145.2 59.4,145.7 59.2,146.1 59.3,146.5 59.7,147.4 59.3,147.7 59.1,147.7 59.9,148.2 60.0,149.3 59.4,149.7 59.8,150.4 59.7,150.4 60.1,150.8 60.2,150.4 59.7,150.3 60.1,149.2 60.0,149.4 59.7,148.5 60.1,148.2 59.8,147.4 59.6,147.1 59.8,146.7 59.5,146.2 59.7,145.8 60.4,144.9 59.7,144.3 59.8,144.4 60.5,143.1 59.7,143.0 60.2,142.5 60.6,142.3 59.9,141.9 60.3,141.0 60.0,140.3 60.0,139.8 60.5,139.3 60.2,138.7 60.0,138.8 60.4,138.0 60.1,137.9 60.0,137.2 60.1,136.3 60.6,136.0 60.9,135.6 60.9,134.7 60.5,134.3 60.8,133.9 60.4,133.2 60.4,132.6 61.1,132.9 61.0,131.8 61.1,131.5 60.8,131.2 60.8,130.3 60.6,129.8 61.6,129.5 61.4,129.0 60.9,128.4 61.2,127.8 61.3,127.1 61.2,126.7 61.3,127.5 61.8,128.3 61.8,128.5 61.2,129.3 61.0,129.4 60.9,130.3 61.7,130.8 61.1,131.3 61.7,131.5 61.4,132.2 61.5,132.9 62.0,132.9 61.6,133.4 62.0,134.3 61.5,134.4 61.4,135.1 61.8,135.6 61.7,136.1 61.2,136.5 61.9,137.2 62.1,137.3 62.2,138.4 61.9,138.8 61.5,138.8 61.5,139.5 62.3,139.9 62.3,140.8 61.4,140.6 62.5,141.5 62.2,142.3 61.7,142.1 62.4,143.3 61.9,143.6 61.5,144.4 62.2,144.9 62.3,144.9 61.7,145.5 62.5,146.0 62.2,146.3 61.8,146.8 62.0,147.5 62.7,147.8 61.9,148.7 62.7,148.8 62.1,149.4 61.8,149.7 62.4,150.3 62.1,151.2 62.4,151.6 62.6,152.2 62.9,152.9 62.0,153.2 62.0,153.2 62.3,153.7 62.2,154.3 62.9,155.2 62.6,155.5 62.9,156.1 62.2,156.5 62.4,157.0 63.2,157.3 62.5,158.1 62.9,158.3 62.7,159.0 63.3,159.1 63.3,160.0 63.3,160.4 63.1,160.6 62.6,160.6 62.8,160.0 63.5,159.5 63.2,159.1 62.8,158.9 63.0,157.6 63.1,157.4 62.9,156.9 62.8,156.9 63.3,155.8 63.4,155.6 63.2,155.2 63.3,154.8 63.7,154.2 63.1,153.7 64.0,153.3 63.0,152.3 63.0,152.1 64.0,151.6 63.8,151.0 63.9,150.5 64.1,149.7 63.7,149.6 63.3,149.0 64.3,149.2 64.2,150.2 64.4,150.9 64.2,151.1 64.0,151.5 64.2,151.9 64.5,152.5 64.1,153.0 64.5,153.8 64.6,154.2 64.1,154.1 64.0,154.7 64.5,155.2 64.5,156.2 64.5,156.8 64.4,157.0 64.4,157.2 64.8,157.7 64.4,158.3 65.1,159.4 64.5,159.3 65.4,160.1 65.3,160.9 65.2,160.8 65.6,161.8 64.6,162.4 65.3,162.3 65.2,162.8 65.6,163.4 64.9,164.3 65.2,164.3 65.7,164.8 65.6,165.5 65.2,166.5 65.9,166.3 66.2,167.2 66.2,167.9 65.5,168.0 65.6,168.9 66.5,169.3 66.2,170.1 66.2,170.2 66.0,171.1 65.9,171.0 66.7,171.4 66.4,172.1"/>
<polyline fill="none" stroke="#ff00ff" stroke-width="1.9" stroke-linejoin="round" points="66.4,172.1 66.5,171.8 66.6,171.1 66.6,170.7 66.7,169.9 66.8,170.0 66.9,169.0 67.0,168.7 67.0,168.0 67.1,168.0 67.2,167.1 67.3,166.9 67.4,166.0 67.4,165.9 67.5,165.2 67.6,165.2 67.7,164.1 67.8,163.7 67.8,163.7 67.9,162.5 68.0,162.4 68.1,161.9 68.2,161.2 68.2,160.6 68.3,160.4 68.4,159.5 68.5,159.0 68.6,158.7 68.6,158.3 68.7,157.7 68.8,157.6 68.9,156.9 69.0,156.5 69.0,156.0 69.1,155.6 69.2,155.3 69.3,154.5 69.4,154.1 69.4,153.5 69.5,152.6 69.6,152.7 69.7,152.0 69.8,151.1 69.8,151.2 69.9,150.5 70.0,150.4 70.0,149.4 70.1,149.0 70.1,148.8 70.2,148.3 70.2,147.7 70.2,146.9 70.3,146.4 70.3,146.1 70.4,145.7 70.4,144.9 70.4,144.6 70.5,143.9 70.5,143.4 70.6,142.6 70.6,142.2 70.6,141.7 70.7,141.7 70.7,140.5 70.7,140.1 70.8,139.6 70.8,139.6 70.9,138.9 70.9,138.1 70.9,137.5 71.0,137.4 71.0,137.0 71.1,136.4 71.1,135.9 71.1,135.3 71.2,134.4 71.2,134.5 71.3,134.0 71.3,132.9 71.4,132.6 71.5,132.6 71.6,132.1 71.7,131.4 71.8,130.9 71.9,129.9 71.9,129.9 72.0,129.4 72.1,128.4 72.2,128.5 72.3,127.9 72.4,127.4 72.5,126.9 72.6,125.8 72.7,125.3 72.8,125.3 72.9,124.3 73.0,123.9 73.1,123.8 73.1,123.3 73.2,122.5 73.3,122.0 73.4,121.7 73.5,121.4 73.6,120.6 73.7,119.9 73.8,119.3 73.8,118.7 73.9,118.6 73.9,118.2 74.0,117.3 74.0,117.2 74.1,116.6 74.2,116.0 74.2,115.5 74.3,114.9 74.3,114.1 74.4,114.0 74.5,113.6 74.5,113.3 74.6,112.8 74.6,112.1 74.7,111.2 74.7,111.2 74.8,110.4 74.9,110.3 74.9,109.8 75.0,108.6 75.0,108.1 75.1,107.6 75.2,107.6 75.2,106.9 75.3,106.5 75.3,105.8 75.4,105.5 75.4,104.6 75.5,104.2 75.5,105.1 75.6,105.2 75.6,105.6 75.7,106.5 75.7,107.3 75.8,107.7 75.8,108.2 75.8,108.6 75.9,108.5 75.9,109.1 76.0,110.0 76.0,110.4 76.0,111.2 76.1,111.0 76.1,112.0 76.2,112.1 76.2,113.1 76.3,113.1 76.3,113.9 76.3,114.6 76.4,115.3 76.4,115.6 76.5,116.1 76.5,116.2 76.6,117.0 76.6,117.4 76.6,117.9 76.7,118.5 76.7,118.9 76.8,119.3 76.8,120.1 76.9,120.5 76.9,121.3 76.9,121.7 77.0,122.1 77.0,122.1 77.1,122.9 77.1,123.4 77.1,124.1 77.2,124.7 77.2,124.7 77.3,125.0 77.3,126.2 77.4,126.8 77.4,126.8 77.4,127.5 77.5,127.8 77.5,128.3 77.6,129.0 77.6,129.6 77.7,130.2 77.7,130.3 77.7,130.9 77.8,131.4 77.8,132.3 77.9,132.4 77.9,133.2 78.0,133.8 78.0,133.5 78.0,134.6 78.1,134.6 78.1,135.4 78.2,136.0 78.2,136.1 78.2,137.0 78.3,137.6 78.3,137.8 78.4,138.4 78.4,138.8 78.5,139.1 78.5,139.7 78.6,139.8 78.7,139.0 78.7,138.4 78.8,138.2 78.9,137.7 79.0,137.1 79.0,136.3 79.1,136.0 79.2,135.3 79.2,134.6 79.3,134.8 79.4,133.6 79.5,133.3 79.5,133.2 79.6,132.3 79.7,132.3 79.8,131.1 79.8,130.7 79.9,130.4 80.0,130.1 80.1,129.7 80.2,129.3 80.2,128.7 80.3,127.7 80.4,127.9 80.5,126.6 80.5,126.4 80.6,125.8 80.7,125.1 80.8,124.7 80.8,124.9 80.9,124.4 81.0,123.4 81.0,123.4 81.1,122.7 81.2,121.6 81.3,121.6 81.3,120.8 81.4,120.3 81.5,120.2 81.6,119.3 81.6,118.9 81.7,118.1 81.8,117.9 81.8,117.3 81.9,116.7 82.0,116.2 82.1,115.9 82.1,115.2 82.2,115.3 82.3,114.3 82.3,113.9 82.4,113.2 82.5,113.2 82.5,112.3 82.6,111.7 82.7,111.4 82.8,111.3 82.8,110.8 82.9,110.0 83.0,109.6 83.0,108.7 83.1,108.8 83.2,108.2 83.2,107.3 83.3,107.3 83.4,106.2 83.5,106.0 83.5,105.3 83.6,105.1 83.7,104.3 83.7,104.0 83.8,103.3 83.9,102.6 84.0,102.2 84.0,102.2 84.1,101.5 84.2,101.0 84.2,100.6 84.3,99.8 84.4,99.3 84.4,98.9 84.5,98.7 84.6,98.2 84.7,97.5 84.7,97.1 84.8,96.3 84.9,96.4 84.9,95.6 85.0,95.2 85.1,94.4 85.1,94.1 85.2,93.7 85.3,93.0 85.4,92.7 85.4,91.8 85.5,91.7 85.6,90.9 85.6,90.5 85.7,89.7 85.7,89.4 85.8,89.3 85.8,88.1 85.9,87.7 85.9,87.5 86.0,87.1 86.0,86.6 86.1,86.1 86.1,85.6 86.2,85.0 86.2,84.2 86.3,84.0 86.3,83.3 86.3,82.5 86.4,82.4 86.4,82.3 86.5,81.4 86.5,81.1 86.6,80.5 86.6,79.5 86.7,79.4 86.7,79.3 86.8,78.5 86.8,77.7 86.9,77.7 86.9,77.0 86.9,76.7 87.0,76.1 87.0,75.4 87.1,74.8 87.1,74.4 87.2,73.7 87.2,73.6 87.3,72.5 87.3,72.7 87.4,71.7 87.4,71.3 87.5,70.9 87.5,70.1 87.6,70.9 87.6,71.0 87.7,72.1 87.8,72.0 87.9,73.1 87.9,73.6 88.0,74.1 88.1,74.5 88.1,74.6 88.2,75.4 88.3,75.5 88.4,76.5 88.4,77.1 88.5,77.1 88.6,77.8 88.6,78.0 88.7,79.0 88.8,79.5 88.9,79.5 88.9,80.5 89.0,81.2 89.1,81.1 89.1,82.2 89.2,82.2 89.3,82.5 89.3,83.1 89.4,84.1 89.5,84.2 89.6,85.2 89.6,85.4 89.7,85.6 89.8,86.7 89.8,86.8 89.9,87.2 90.0,87.6 90.1,88.3 90.1,88.9 90.2,89.5 90.3,90.0 90.3,90.1 90.4,90.6 90.5,91.8 90.6,91.9 90.6,92.7 90.7,93.3 90.8,92.6 90.9,92.2 91.0,91.3 91.0,90.8 91.1,90.5 91.2,90.4 91.3,89.9 91.4,88.8 91.5,88.6 91.6,87.8 91.7,87.4 91.8,86.8 91.8,86.9 91.9,85.9 92.0,85.5 92.1,84.7 92.2,84.8 92.3,83.7 92.4,83.8 92.5,82.8 92.5,82.3 92.6,81.6 92.7,81.4 92.8,81.4 92.9,80.4 93.0,79.9 93.1,79.7 93.2,78.8 93.2,78.7 93.3,78.4 93.4,77.8 93.5,76.6 93.6,76.7 93.7,76.2 93.8,75.7 93.8,75.1 93.9,74.2 94.0,74.1 94.1,73.6 94.2,73.0 94.3,72.7 94.4,71.7 94.5,71.4 94.5,71.1 94.6,70.8 94.7,70.4 94.8,69.8 94.9,68.8 95.0,68.4 95.1,68.0 95.2,67.5 95.2,66.7 95.3,66.4 95.4,66.3 95.5,65.4 95.6,65.3 95.7,64.8 95.8,64.0 95.9,63.9 96.1,63.4 96.2,62.2 96.3,62.2 96.4,62.0 96.5,61.0 96.6,60.5 96.8,59.9 96.9,60.0 97.0,59.2 97.1,58.7 97.2,58.3 97.3,58.0 97.5,57.2 97.6,56.8 97.7,56.2 97.8,55.6 97.9,55.6 98.0,54.9 98.1,54.3 98.3,53.5 98.4,53.4 98.5,52.5 98.6,52.3 98.7,51.6 98.8,51.3 99.0,50.7 99.1,50.2 99.2,49.9 99.3,49.1 99.4,48.7 99.5,48.6 99.7,47.6 99.8,47.8 99.9,46.9 100.0,46.3 100.1,47.2 100.3,47.4 100.4,47.9 100.6,48.1 100.7,48.7 100.9,49.8 101.0,50.0 101.2,50.4 101.3,51.0 101.4,51.1 101.6,51.7 101.7,52.7 101.9,53.0 102.0,53.3 102.2,54.2 102.3,54.2 102.5,54.9 102.6,55.6 102.8,55.2 103.0,54.3 103.1,54.4 103.3,53.3 103.5,52.8 103.7,52.6 103.9,52.1 104.1,51.6 104.2,51.1 104.4,50.9 104.6,50.0 104.8,49.6 105.0,49.3 105.2,49.0 105.3,48.1 105.5,47.7 105.7,47.3 105.9,46.6 106.1,46.4 106.3,46.2 106.4,45.2 106.6,45.2 106.8,44.7 107.0,44.0 107.2,43.4 107.4,42.7 107.5,42.6 107.7,42.3 107.9,41.5 108.1,40.9 108.3,40.9 108.5,39.9 108.6,39.7 108.8,39.4 109.0,38.7 109.2,38.1 109.4,37.8 109.6,37.2 109.7,36.9 109.9,36.6 110.1,36.1 110.3,35.6 110.5,34.6 110.7,34.2 110.8,34.1 111.0,33.6 111.2,33.3 111.7,32.7 112.1,32.1 112.6,31.9 112.9,32.3 113.1,33.2 113.4,33.4 113.7,33.7 113.9,34.8 114.2,34.6 114.4,35.3 114.7,36.1 115.0,36.5 115.2,36.6 115.5,37.7 115.8,36.9 116.2,36.7 116.5,36.0 116.8,35.8 117.2,35.6 117.5,34.5 117.8,34.5 118.1,34.1 118.5,34.0 118.8,33.3 119.1,32.6 119.5,32.1 119.8,32.0 120.3,31.6 120.8,31.5 121.3,31.9 121.8,31.1 122.3,30.9 122.9,31.1 123.4,30.8 123.9,31.0 124.4,30.3 124.9,30.5 125.4,30.1 125.9,30.5 126.4,30.3 126.9,29.6 127.5,29.6 128.0,29.6 128.5,29.5 129.0,29.5 129.5,29.5 130.0,29.0 130.5,29.3 131.0,29.4 131.5,29.0 132.0,28.9 132.5,28.8 133.0,29.1 133.5,28.6 134.0,28.6 134.5,28.7 135.0,28.9 135.5,28.9 136.0,28.7 136.5,28.3 137.0,28.5 137.5,28.2 138.0,28.9 138.5,28.4 139.0,28.7 139.5,28.1 140.0,28.1 140.5,28.0 141.0,28.1 141.5,28.3 142.0,28.2 142.5,28.0 143.0,27.8 143.5,27.9 144.0,28.3 144.5,27.8 145.0,28.5 145.5,28.3 146.0,27.8 146.5,27.6 147.0,28.3 147.5,27.6 148.0,28.1 148.5,27.9 149.0,27.9 149.5,28.0 150.0,27.5 150.5,28.1 151.0,28.1 151.5,27.5 152.0,27.6 152.5,28.1 153.0,27.5 153.5,27.5 154.0,28.0 154.5,28.1 155.0,28.1 155.5,27.5 156.0,27.4 156.5,27.3 157.0,27.3 157.5,27.5 158.0,28.0 158.5,27.8 159.0,27.3 159.5,27.5 160.0,27.6 160.5,27.2 161.0,27.2 161.5,27.2 162.0,27.3 162.5,27.1 163.0,27.8 163.5,27.8 164.0,27.4 164.5,27.3 165.0,27.4 165.5,27.7 166.0,27.3 166.5,27.7 167.0,27.7 167.5,27.2 168.0,27.4 168.5,27.7 169.0,27.2 169.5,27.8 170.0,27.4 170.5,27.5 171.0,27.0 171.5,27.3 172.0,27.5 172.5,27.1 173.0,27.7 173.5,27.3 174.0,27.4 174.5,27.6 175.0,27.2 175.5,27.5 176.0,27.5 176.5,27.6 177.0,27.2 177.5,27.2 178.0,27.4 178.5,27.3 179.0,27.3 179.5,27.4 180.0,27.5 180.5,27.0 181.0,27.1 181.5,27.0 182.0,27.3 182.5,27.1 183.0,27.6 183.5,27.1 184.0,27.2 184.5,27.5 185.0,27.1 185.5,26.9 186.0,27.1 186.5,27.4 187.0,27.2 187.5,27.6 188.0,27.0 188.5,27.1 189.0,27.3 189.5,27.1 190.0,27.1 190.5,26.9 191.0,27.3 191.5,27.4 192.0,27.1 192.5,27.6 193.0,27.3 193.5,27.1 194.0,27.1 194.5,27.1 195.0,26.9 195.5,27.2 196.0,27.2 196.5,27.5 197.0,26.9 197.5,26.8 198.0,27.5 198.5,27.1 199.0,27.4 199.5,27.5 200.0,27.0 200.5,26.9 201.0,27.4 201.5,27.0 202.0,27.2 202.5,26.8 203.0,27.3 203.5,27.2 204.0,27.0 204.5,27.0 205.0,27.5 205.5,27.5 206.0,27.0 206.5,27.1 207.0,27.1 207.5,27.1 208.0,27.1 208.5,27.6 209.0,26.8 209.5,27.1 210.0,27.2 210.5,27.3 211.0,27.1 211.5,27.4 212.0,27.1 212.5,26.9 213.0,27.5 213.5,27.0 214.0,27.4 214.5,27.5 215.0,26.9 215.5,27.4 216.0,27.4 216.5,27.1 217.0,27.5 217.5,26.9 218.0,27.2 218.5,27.6 219.0,27.2 219.5,27.5 220.1,27.1 220.6,27.3 221.1,27.2 221.6,27.4 222.1,27.4 222.6,27.4 223.1,27.4 223.6,27.0 224.1,27.3 224.6,27.4 225.1,27.4 225.6,26.9 226.1,27.2 226.6,26.8 227.1,27.6 227.6,27.3 228.1,27.0 228.6,27.3 229.1,27.1 229.6,27.2 230.1,27.4 230.6,27.5 231.1,27.6 231.6,27.3 232.1,27.2 232.6,27.2 233.1,26.9 233.6,26.8 234.1,27.5 234.6,27.6 235.1,27.5 235.6,27.0 236.1,27.3 236.6,27.0 237.1,27.1 237.6,27.4 238.1,27.5 238.6,26.8 239.1,27.4 239.6,27.4 240.1,27.4 240.6,26.9 241.1,27.1 241.6,27.4 242.1,27.0 242.6,26.9 243.1,27.2 243.6,26.9 244.1,27.0 244.6,26.9 245.1,27.0 245.6,26.9 246.1,27.1 246.6,27.1 247.1,26.9 247.6,26.9 248.1,27.1 248.6,26.9 249.1,27.0 249.6,26.8 250.1,27.4 250.6,26.9 251.1,27.2 251.6,26.9 252.1,27.3 252.6,27.6 253.1,27.4 253.6,26.9 254.1,27.0 254.6,26.9 255.1,27.5 255.6,26.9 256.1,27.4 256.6,27.4 257.1,27.5 257.6,27.1 258.1,27.1 258.6,27.1 259.1,27.3 259.6,27.2 260.2,27.4 260.7,27.2 261.2,27.5 261.7,27.3 262.2,27.0 262.7,27.1 263.2,27.0 263.7,27.5 264.2,26.8 264.7,27.1 265.2,27.1 265.7,27.3 266.2,26.9 266.7,27.3 267.2,26.9 267.7,27.0 268.2,27.1 268.7,26.9 269.2,27.6 269.7,26.8 270.2,27.5 270.7,27.3 271.2,27.5 271.7,27.3 272.2,27.2 272.7,27.2 273.2,27.2 273.7,27.1 274.2,26.9 274.7,27.3 275.2,27.4 275.7,27.6 276.2,27.5 276.7,27.3 277.2,27.0 277.7,27.2 278.2,26.9 278.7,27.5 279.2,27.4 279.7,27.1 280.2,27.1 280.7,27.5 281.2,27.1 281.7,26.9 282.2,27.3 282.7,27.1 283.2,26.9 283.7,27.5 284.2,27.0 284.7,27.0 285.2,27.2 285.7,27.0 286.2,27.1 286.7,27.2 287.2,27.5 287.7,27.3 288.2,27.1 288.7,27.5 289.2,27.5 289.7,27.5 290.2,26.8 290.7,27.4 291.2,27.4 291.7,27.4 292.2,27.4 292.7,27.3 293.2,27.0 293.7,27.5 294.2,27.4 294.7,27.0 295.2,27.2 295.7,27.0 296.2,27.0 296.7,27.3 297.2,26.9 297.7,26.8 298.2,27.3 298.7,27.3 299.2,27.5 299.7,26.8 300.3,27.0 300.8,26.9 301.3,27.5 301.8,27.4 302.3,26.9 302.8,27.2 303.3,27.4 303.8,27.3 304.3,27.2 304.8,27.2 305.3,27.0 305.8,26.8 306.3,26.9 306.8,27.2 307.3,26.9 307.8,27.5 308.3,27.0 308.8,26.8 309.3,27.3 309.8,27.3 310.3,27.4 310.8,27.2 311.3,27.5 311.8,27.3 312.3,27.5 312.8,27.4 313.3,27.0 313.8,27.1 314.3,27.0 314.8,27.3 315.3,27.1 315.8,27.2 316.3,27.1 316.8,26.9 317.3,27.3 317.8,27.4 318.3,27.1 318.8,26.9 319.3,27.3 319.8,27.3"/>
<polyline fill="none" stroke="#ff00ff" stroke-width="2.6" stroke-linejoin="round" stroke-dasharray="3 0.8" points="67.5,166.0 67.6,165.7 67.7,165.2 67.8,164.4 67.9,163.6 68.0,163.4 68.1,162.4 68.2,161.7 68.3,160.8 68.4,160.3 68.5,159.7 68.6,159.0 68.7,158.4 68.8,157.7 68.8,157.0 68.9,156.8 69.0,156.1 69.1,155.8 69.2,155.1 69.3,154.7 69.4,154.1 69.5,152.7 69.6,152.6 69.7,152.3 69.8,150.8 69.9,150.3 70.0,149.5 70.1,149.1 70.1,149.2 70.2,148.6 70.2,147.2 70.3,146.5 70.3,146.0 70.4,146.2 70.4,145.0 70.5,144.7 70.5,143.9 70.6,143.3 70.6,142.9 70.7,142.6 70.7,141.2 70.8,140.9 70.8,140.6 70.9,140.1 70.9,139.3 71.0,138.4 71.0,137.5 71.1,137.1 71.1,136.9 71.2,136.6 71.2,135.7 71.3,135.1 71.4,134.3 71.5,134.0 71.6,133.6 71.7,132.5 71.8,132.1 71.9,131.4 72.0,130.5 72.1,130.5 72.2,129.1 72.3,128.8 72.4,128.7 72.6,127.8 72.7,127.0 72.8,126.2 72.9,125.7 73.0,125.5 73.1,124.8 73.2,124.2 73.3,123.9 73.4,122.7 73.5,122.0 73.6,121.7 73.7,121.4 73.8,120.6 73.8,120.2 73.9,119.5 74.0,118.1 74.0,118.1 74.1,117.1 74.1,117.0 74.2,116.5 74.3,115.9 74.3,114.7 74.4,114.3 74.5,113.5 74.5,113.5 74.6,112.8 74.7,112.1 74.7,111.4 74.8,111.0 74.9,110.2 74.9,109.3 75.0,109.5 75.0,108.7 75.1,107.8 75.2,107.3 75.2,106.3 75.3,105.7"/>
<polyline fill="none" stroke="#ff00ff" stroke-width="2.9" stroke-linejoin="round" points="95.6,64.6 95.7,64.6 95.9,64.1 96.0,63.0 96.2,62.3 96.3,61.9 96.5,61.2 96.6,61.1 96.7,60.0 96.9,59.4 97.0,58.9 97.2,58.8 97.3,58.1 97.4,56.9 97.6,56.3 97.7,55.6 97.9,55.6 98.0,55.0 98.2,53.9 98.3,53.4 98.4,53.4 98.6,52.0 98.7,52.1 98.9,51.6 99.0,50.8 99.1,49.9 99.3,49.7 99.4,49.3 99.6,48.3 99.7,47.8 99.9,47.2 100.0,46.9 100.2,47.6 100.3,47.9 100.5,48.3 100.7,48.5 100.9,49.5 101.0,50.0 101.2,50.8 101.4,51.2 101.6,51.6 101.7,52.1 101.9,53.3 102.1,53.7 102.3,54.5 102.4,54.5 102.6,55.3 102.8,54.4 103.0,53.9 103.3,53.5 103.5,52.9 103.7,53.0 103.9,51.6 104.1,51.4 104.4,50.4 104.6,50.6 104.8,49.3 105.0,49.4 105.2,48.3 105.5,47.8 105.7,47.0 105.9,46.9 106.1,45.8 106.3,45.8 106.6,45.1 106.8,44.3 107.0,44.1 107.2,43.5 107.5,42.3 107.7,42.6 107.9,42.0 108.1,41.3 108.3,40.9 108.6,39.7 108.8,38.9 109.0,38.7 109.2,38.6 109.4,37.8 109.7,36.6 109.9,36.7 110.1,36.2 110.3,35.3 110.5,34.9 110.8,34.5 111.0,33.5 111.2,33.3 111.9,32.7 112.6,32.5 112.9,33.1 113.2,33.0 113.6,33.6 113.9,34.6 114.2,34.9 114.5,35.4 114.9,35.7 115.2,36.7 115.5,37.8 115.9,36.7 116.3,36.1 116.7,35.7 117.1,35.5 117.5,34.4 117.8,34.1 118.2,34.0 118.6,33.3 119.0,33.2 119.4,32.1 119.8,31.6"/>
<polygon fill="#ff00ff" points="93.0,79.2 93.5,76.0 94.0,72.7 94.5,70.1 95.0,67.2 95.5,64.0 96.0,61.9 96.5,60.3 97.0,57.8 97.5,56.1 98.0,53.3 98.5,51.4 99.0,49.0 99.5,47.6 100.0,45.0 100.5,47.3 101.0,48.5 101.5,50.5 102.0,52.5 102.5,53.8 103.0,53.0 103.5,51.6 104.0,50.7 104.5,48.6 105.0,47.8 105.5,46.0 106.0,44.6 106.5,43.6 107.0,42.3 107.5,40.7 108.0,39.3 108.5,38.0 109.0,36.6 109.5,36.2 110.0,34.4 110.5,33.4 111.0,31.7 111.5,30.8 112.0,30.7 112.5,30.6 113.0,30.7 113.5,31.7 114.0,32.6 114.5,33.7 115.0,34.3 115.5,35.1 116.0,35.0 116.5,34.2 117.0,33.3 117.5,32.4 118.0,32.3 118.5,31.5 119.0,30.6 119.5,29.9 120.0,29.6 120.5,29.3 121.0,29.0 121.5,28.6 122.0,28.6 122.5,28.4 123.0,28.6 123.5,27.9 124.0,27.8 124.5,27.5 125.0,27.8 125.5,27.2 126.0,27.4 126.5,27.5 127.0,27.0 127.5,27.0 128.0,26.6 128.5,26.8 129.0,26.6 129.5,26.2 130.0,26.4 130.5,25.9 131.0,25.7 131.5,26.5 132.0,26.2 132.5,26.2 133.0,25.8 133.5,25.5 134.0,25.8 134.5,25.8 135.0,25.5 135.5,25.9 136.0,25.5 136.5,25.4 137.0,25.3 137.5,25.2 138.0,25.4 138.5,25.7 139.0,25.4 139.5,25.7 140.0,25.7 140.5,24.9 141.0,25.5 141.5,24.9 142.0,24.7 142.5,25.0 143.0,25.5 143.5,24.8 144.0,25.1 144.5,25.5 145.0,24.8 145.5,25.0 146.0,24.6 146.5,25.0 147.0,25.4 147.5,24.9 148.0,25.0 148.5,24.8 149.0,24.5 149.5,25.0 150.0,25.3 150.5,24.5 151.0,24.4 151.5,24.6 152.0,24.5 152.5,24.4 153.0,24.3 153.5,24.6 154.0,24.7 154.5,25.1 155.0,24.7 155.5,24.8 156.0,24.2 156.5,24.3 157.0,24.4 157.5,24.3 158.0,24.5 158.5,24.8 159.0,24.8 159.5,24.8 160.0,24.4 160.5,24.9 161.0,24.5 161.5,24.2 162.0,24.2 162.5,24.3 163.0,24.8 163.5,23.9 164.0,24.4 164.5,24.8 165.0,24.4 165.5,24.6 166.0,24.0 166.5,24.1 167.0,24.6 167.5,24.6 168.0,24.4 168.5,24.7 169.0,23.9 169.5,24.0 170.0,24.2 170.5,23.9 171.0,24.2 171.5,24.0 172.0,24.5 172.5,24.3 173.0,23.8 173.5,24.6 174.0,23.9 174.5,24.7 175.0,24.4 175.5,24.4 176.0,24.2 176.5,24.5 177.0,24.0 177.5,24.2 178.0,24.2 178.5,24.0 179.0,23.8 179.5,23.9 180.0,24.2 180.5,23.9 181.0,24.5 181.5,24.5 182.0,24.6 182.5,24.1 183.0,24.5 183.5,24.6 184.0,24.3 184.5,24.6 185.0,23.9 185.5,24.1 186.0,24.0 186.5,24.0 187.0,24.6 187.5,24.3 188.0,23.9 188.5,23.9 189.0,24.6 189.5,24.2 190.0,24.6 190.5,24.6 191.0,24.2 191.5,23.8 192.0,24.3 192.5,24.5 193.0,24.4 193.5,23.9 194.0,24.3 194.5,24.1 195.0,24.4 195.5,23.9 196.0,24.5 196.5,23.7 197.0,24.6 197.5,24.5 198.0,24.4 198.5,24.1 199.0,24.6 199.5,24.4 200.0,24.4 200.5,24.6 201.0,24.1 201.5,23.7 202.0,23.8 202.5,24.4 203.0,24.1 203.5,24.5 204.0,24.0 204.5,24.3 205.0,23.7 205.5,24.0 206.0,24.3 206.5,24.2 207.0,24.6 207.5,24.5 208.0,23.8 208.5,23.8 209.0,24.4 209.5,24.2 210.0,23.7 210.5,23.8 211.0,24.2 211.5,24.1 212.0,23.8 212.5,24.6 213.0,24.3 213.5,24.1 214.0,23.7 214.5,23.9 215.0,23.8 215.5,24.0 216.0,24.0 216.5,24.0 217.0,23.7 217.5,23.9 218.0,24.0 218.5,24.2 219.0,24.4 219.5,23.7 220.0,24.2 220.5,24.4 221.0,24.6 221.5,24.4 222.0,23.9 222.5,24.5 223.0,24.0 223.5,24.4 224.0,24.1 224.5,24.0 225.0,24.2 225.5,24.4 226.0,23.9 226.5,24.0 227.0,24.5 227.5,24.2 228.0,24.2 228.5,24.2 229.0,24.5 229.5,23.8 230.0,23.7 230.5,24.2 231.0,24.2 231.5,24.4 232.0,24.5 232.5,23.8 233.0,24.4 233.5,24.5 234.0,24.5 234.5,24.5 235.0,23.9 235.5,23.9 236.0,24.5 236.5,23.7 237.0,24.2 237.5,24.0 238.0,24.6 238.5,23.8 239.0,24.2 239.5,24.6 240.0,23.7 240.5,24.5 241.0,24.2 241.5,24.6 242.0,24.5 242.5,24.0 243.0,24.5 243.5,24.2 244.0,24.4 244.5,24.6 245.0,23.8 245.5,24.1 246.0,23.9 246.5,24.6 247.0,24.2 247.5,24.2 248.0,24.0 248.5,24.5 249.0,24.1 249.5,23.8 250.0,23.9 250.5,23.9 251.0,24.4 251.5,23.8 252.0,23.9 252.5,24.5 253.0,24.0 253.5,24.5 254.0,24.0 254.5,23.7 255.0,24.4 255.5,23.8 256.0,24.6 256.5,24.3 257.0,24.3 257.5,24.5 258.0,23.7 258.5,23.9 259.0,24.6 259.5,24.4 260.0,24.2 260.5,24.3 261.0,24.1 261.5,24.6 262.0,24.0 262.5,24.4 263.0,24.2 263.5,24.0 264.0,24.5 264.5,23.7 265.0,23.9 265.5,23.8 266.0,24.1 266.5,24.4 267.0,23.9 267.5,23.9 268.0,24.0 268.5,24.6 269.0,23.9 269.5,24.6 270.0,24.0 270.5,24.6 271.0,23.7 271.5,24.4 272.0,24.5 272.5,24.3 273.0,24.2 273.5,24.3 274.0,24.5 274.5,24.1 275.0,23.7 275.5,24.3 276.0,23.7 276.5,24.4 277.0,24.1 277.5,23.7 278.0,23.8 278.5,24.3 279.0,24.4 279.5,24.4 280.0,23.9 280.5,24.6 281.0,23.7 281.5,23.7 282.0,23.9 282.5,24.5 283.0,24.4 283.5,24.1 284.0,24.4 284.5,23.7 285.0,24.0 285.5,24.3 286.0,24.6 286.5,24.1 287.0,24.5 287.5,24.0 288.0,24.5 288.5,24.3 289.0,24.4 289.5,24.4 290.0,23.7 290.5,24.2 291.0,24.0 291.5,23.8 292.0,24.1 292.5,24.4 293.0,24.0 293.5,23.7 294.0,24.4 294.5,23.7 295.0,24.0 295.5,23.7 296.0,24.4 296.5,24.2 297.0,24.0 297.5,24.0 298.0,24.6 298.5,24.3 299.0,23.8 299.5,23.7 300.0,24.5 300.5,24.1 301.0,24.2 301.5,24.1 302.0,24.3 302.5,23.7 303.0,24.1 303.5,23.8 304.0,23.8 304.5,23.9 305.0,23.9 305.5,23.8 306.0,24.5 306.5,24.2 307.0,24.0 307.5,23.8 308.0,24.1 308.5,23.8 309.0,23.8 309.5,23.7 310.0,23.7 310.5,24.2 311.0,24.3 311.5,24.4 312.0,24.3 312.5,24.3 313.0,23.8 313.5,24.4 314.0,23.7 314.5,24.2 315.0,24.4 315.5,24.5 316.0,23.9 316.5,24.1 317.0,24.5 317.5,24.2 318.0,24.4 318.5,24.4 319.0,24.2 319.5,23.8 319.5,30.3 319.0,30.6 318.5,30.3 318.0,29.8 317.5,30.2 317.0,30.3 316.5,30.6 316.0,30.0 315.5,30.5 315.0,30.1 314.5,30.4 314.0,30.3 313.5,30.0 313.0,30.4 312.5,30.7 312.0,30.1 311.5,30.1 311.0,30.3 310.5,29.8 310.0,30.0 309.5,30.1 309.0,30.7 308.5,30.3 308.0,30.2 307.5,30.6 307.0,30.3 306.5,30.4 306.0,30.6 305.5,30.5 305.0,30.0 304.5,30.6 304.0,30.4 303.5,30.2 303.0,30.1 302.5,30.3 302.0,30.6 301.5,30.1 301.0,29.8 300.5,30.4 300.0,29.9 299.5,30.5 299.0,30.2 298.5,30.6 298.0,30.3 297.5,30.5 297.0,30.2 296.5,30.1 296.0,29.8 295.5,29.9 295.0,30.4 294.5,30.1 294.0,30.0 293.5,30.5 293.0,30.6 292.5,29.9 292.0,30.7 291.5,30.0 291.0,30.2 290.5,29.9 290.0,30.0 289.5,30.2 289.0,30.3 288.5,29.9 288.0,30.5 287.5,30.4 287.0,30.3 286.5,30.5 286.0,30.6 285.5,30.3 285.0,29.8 284.5,30.6 284.0,30.6 283.5,30.2 283.0,29.8 282.5,30.5 282.0,30.3 281.5,30.2 281.0,30.2 280.5,30.5 280.0,30.5 279.5,30.4 279.0,30.1 278.5,29.8 278.0,30.0 277.5,30.6 277.0,30.7 276.5,30.4 276.0,29.9 275.5,30.7 275.0,30.3 274.5,30.5 274.0,30.6 273.5,30.0 273.0,29.8 272.5,30.6 272.0,30.7 271.5,30.1 271.0,30.2 270.5,30.0 270.0,29.8 269.5,30.6 269.0,30.2 268.5,30.3 268.0,30.2 267.5,30.7 267.0,30.2 266.5,29.8 266.0,30.0 265.5,30.2 265.0,29.8 264.5,30.3 264.0,30.0 263.5,30.2 263.0,29.8 262.5,30.2 262.0,30.0 261.5,30.4 261.0,29.8 260.5,29.9 260.0,29.9 259.5,30.0 259.0,30.1 258.5,30.6 258.0,30.6 257.5,29.9 257.0,30.7 256.5,30.6 256.0,29.8 255.5,30.5 255.0,29.8 254.5,30.7 254.0,30.7 253.5,30.4 253.0,30.6 252.5,30.1 252.0,30.4 251.5,30.3 251.0,30.2 250.5,30.6 250.0,29.8 249.5,30.1 249.0,30.5 248.5,30.2 248.0,30.4 247.5,30.7 247.0,29.9 246.5,30.2 246.0,30.6 245.5,29.8 245.0,30.1 244.5,30.6 244.0,30.7 243.5,30.6 243.0,30.6 242.5,30.5 242.0,30.7 241.5,30.7 241.0,30.7 240.5,29.9 240.0,30.6 239.5,29.9 239.0,29.8 238.5,30.5 238.0,29.9 237.5,30.7 237.0,30.0 236.5,29.9 236.0,30.6 235.5,30.6 235.0,30.6 234.5,30.6 234.0,29.8 233.5,30.4 233.0,30.2 232.5,30.4 232.0,30.1 231.5,30.7 231.0,30.7 230.5,30.6 230.0,30.1 229.5,30.2 229.0,30.0 228.5,30.4 228.0,30.1 227.5,30.3 227.0,30.7 226.5,29.8 226.0,29.8 225.5,30.6 225.0,29.9 224.5,30.0 224.0,30.5 223.5,29.9 223.0,30.0 222.5,30.0 222.0,30.0 221.5,29.8 221.0,30.6 220.5,29.8 220.0,30.4 219.5,30.3 219.0,30.0 218.5,29.9 218.0,29.8 217.5,30.5 217.0,30.7 216.5,30.5 216.0,30.5 215.5,30.7 215.0,30.5 214.5,30.0 214.0,30.1 213.5,30.6 213.0,29.9 212.5,30.4 212.0,30.6 211.5,29.9 211.0,29.8 210.5,29.8 210.0,30.0 209.5,30.4 209.0,30.6 208.5,30.6 208.0,30.5 207.5,30.1 207.0,30.4 206.5,30.0 206.0,30.0 205.5,30.6 205.0,30.0 204.5,30.3 204.0,30.3 203.5,30.0 203.0,30.4 202.5,30.5 202.0,30.3 201.5,30.7 201.0,29.8 200.5,30.1 200.0,29.9 199.5,30.3 199.0,30.7 198.5,29.8 198.0,29.8 197.5,30.4 197.0,29.9 196.5,30.4 196.0,30.0 195.5,30.5 195.0,30.2 194.5,29.9 194.0,30.0 193.5,30.4 193.0,30.4 192.5,30.6 192.0,30.2 191.5,29.8 191.0,30.3 190.5,30.2 190.0,30.5 189.5,30.0 189.0,30.3 188.5,29.9 188.0,30.7 187.5,30.4 187.0,30.8 186.5,30.5 186.0,30.6 185.5,30.8 185.0,30.1 184.5,30.6 184.0,30.6 183.5,30.6 183.0,30.8 182.5,30.4 182.0,30.1 181.5,30.9 181.0,30.3 180.5,30.4 180.0,30.8 179.5,30.2 179.0,30.7 178.5,30.8 178.0,30.8 177.5,30.5 177.0,30.4 176.5,30.0 176.0,30.3 175.5,30.3 175.0,30.5 174.5,29.9 174.0,30.0 173.5,30.1 173.0,30.7 172.5,30.6 172.0,30.0 171.5,30.2 171.0,30.2 170.5,30.2 170.0,30.3 169.5,30.7 169.0,30.4 168.5,30.1 168.0,30.6 167.5,30.4 167.0,30.4 166.5,30.1 166.0,30.9 165.5,30.5 165.0,30.2 164.5,30.4 164.0,30.2 163.5,30.6 163.0,30.4 162.5,30.9 162.0,30.8 161.5,30.9 161.0,30.9 160.5,30.3 160.0,31.0 159.5,30.9 159.0,30.5 158.5,30.6 158.0,30.5 157.5,30.6 157.0,31.1 156.5,30.7 156.0,30.5 155.5,31.1 155.0,31.1 154.5,30.8 154.0,30.5 153.5,30.8 153.0,31.3 152.5,31.3 152.0,31.1 151.5,30.8 151.0,31.2 150.5,30.5 150.0,30.7 149.5,31.4 149.0,30.6 148.5,30.7 148.0,30.9 147.5,30.9 147.0,31.4 146.5,31.4 146.0,31.3 145.5,31.2 145.0,30.7 144.5,31.0 144.0,30.7 143.5,30.8 143.0,31.5 142.5,30.9 142.0,31.4 141.5,31.6 141.0,30.9 140.5,31.0 140.0,31.2 139.5,31.5 139.0,31.5 138.5,31.3 138.0,31.5 137.5,31.6 137.0,31.4 136.5,31.5 136.0,32.2 135.5,31.8 135.0,31.4 134.5,31.6 134.0,32.2 133.5,32.3 133.0,31.9 132.5,32.0 132.0,32.5 131.5,31.9 131.0,31.9 130.5,32.4 130.0,32.5 129.5,31.8 129.0,31.9 128.5,32.7 128.0,32.1 127.5,32.2 127.0,32.9 126.5,32.7 126.0,33.2 125.5,33.0 125.0,32.8 124.5,33.2 124.0,33.4 123.5,33.4 123.0,33.4 122.5,34.1 122.0,33.4 121.5,33.9 121.0,33.8 120.5,34.6 120.0,34.7 119.5,34.2 119.0,35.4 118.5,36.1 118.0,36.7 117.5,36.8 117.0,37.2 116.5,38.1 116.0,39.2 115.5,39.6 115.0,38.6 114.5,37.0 114.0,36.8 113.5,35.7 113.0,34.7 112.5,33.9 112.0,33.9 111.5,34.5 111.0,35.2 110.5,36.1 110.0,37.7 109.5,39.3 109.0,40.6 108.5,41.6 108.0,43.1 107.5,44.2 107.0,45.5 106.5,46.6 106.0,48.0 105.5,49.4 105.0,50.9 104.5,52.1 104.0,53.5 103.5,54.3 103.0,55.5 102.5,56.9 102.0,55.2 101.5,53.2 101.0,51.1 100.5,49.1 100.0,47.7 99.5,50.2 99.0,52.4 98.5,53.6 98.0,55.9 97.5,58.2 97.0,60.3 96.5,62.9 96.0,64.4 95.5,67.2 95.0,69.6 94.5,72.6 94.0,74.9 93.5,78.2 93.0,81.2"/>
<g stroke="#111" stroke-width="1" fill="none">
<line x1="54.7" y1="11.1" x2="54.7" y2="206.7"/>
<line x1="54.2" y1="206.2" x2="319.5" y2="206.2"/>
<line x1="50.0" y1="206.2" x2="54.7" y2="206.2"/>
<line x1="52.1" y1="186.8" x2="54.7" y2="186.8"/>
<line x1="50.0" y1="167.3" x2="54.7" y2="167.3"/>
<line x1="52.1" y1="147.9" x2="54.7" y2="147.9"/>
<line x1="50.0" y1="128.4" x2="54.7" y2="128.4"/>
<line x1="52.1" y1="109.0" x2="54.7" y2="109.0"/>
<line x1="50.0" y1="89.5" x2="54.7" y2="89.5"/>
<line x1="52.1" y1="70.1" x2="54.7" y2="70.1"/>
<line x1="50.0" y1="50.6" x2="54.7" y2="50.6"/>
<line x1="52.1" y1="31.2" x2="54.7" y2="31.2"/>
<line x1="50.0" y1="11.7" x2="54.7" y2="11.7"/>
<line x1="54.7" y1="206.2" x2="54.7" y2="210.9"/>
<line x1="87.7" y1="206.2" x2="87.7" y2="208.8"/>
<line x1="120.8" y1="206.2" x2="120.8" y2="210.9"/>
<line x1="153.8" y1="206.2" x2="153.8" y2="208.8"/>
<line x1="186.9" y1="206.2" x2="186.9" y2="210.9"/>
<line x1="219.9" y1="206.2" x2="219.9" y2="208.8"/>
<line x1="252.9" y1="206.2" x2="252.9" y2="210.9"/>
<line x1="286.0" y1="206.2" x2="286.0" y2="208.8"/>
<line x1="319.0" y1="206.2" x2="319.0" y2="210.9"/>
</g>
<g font-family="Liberation Sans, sans-serif" font-size="12.2" fill="#000">
<text x="48.3" y="210.6" text-anchor="end">0.0</text>
<text x="48.3" y="171.7" text-anchor="end">0.2</text>
<text x="48.3" y="132.8" text-anchor="end">0.4</text>
<text x="48.3" y="93.9" text-anchor="end">0.6</text>
<text x="48.3" y="55.0" text-anchor="end">0.8</text>
<text x="48.3" y="16.1" text-anchor="end">1.0</text>
<text x="55.1" y="224" text-anchor="middle">0</text>
<text x="121.2" y="224" text-anchor="middle">20</text>
<text x="187.3" y="224" text-anchor="middle">40</text>
<text x="253.3" y="224" text-anchor="middle">60</text>
<text x="319.4" y="224" text-anchor="middle">80</text>
<text x="58.7" y="23.4" font-size="11.9">(d)</text>
</g>
<text transform="translate(15.3,111.7) rotate(-90)" text-anchor="middle" font-family="Liberation Serif, serif" font-size="12.7" fill="#000">Purity μ</text>
<g font-family="Liberation Sans, sans-serif" fill="#000"><text x="180.8" y="243.9" font-size="11">γ</text><text x="186.5" y="247.7" font-size="6.8" fill="#444">1</text><text x="189.5" y="244.2" font-size="12">t</text></g>
<rect x="222.4" y="35.6" width="94.8" height="84.1" fill="#fff" stroke="#333" stroke-width="0.9"/>
<line x1="224" y1="42.3" x2="248.1" y2="42.3" stroke="#ff0000" stroke-width="1.5"/>
<text x="250.7" y="46.3" font-family="Liberation Sans, sans-serif" font-size="10.7" fill="#000">n<tspan font-size="7.6" dy="3.6">1</tspan><tspan dy="-3.6">=0.5; n</tspan><tspan font-size="7.6" dy="3.6">2</tspan><tspan dy="-3.6">=10</tspan></text>
<line x1="224" y1="59.3" x2="248.1" y2="59.3" stroke="#0000ff" stroke-width="1.5" stroke-dasharray="5.2 3.5"/>
<text x="250.7" y="63.3" font-family="Liberation Sans, sans-serif" font-size="10.7" fill="#000">n<tspan font-size="7.6" dy="3.6">1</tspan><tspan dy="-3.6">=0.5; n</tspan><tspan font-size="7.6" dy="3.6">2</tspan><tspan dy="-3.6">=5</tspan></text>
<line x1="224" y1="76.3" x2="248.1" y2="76.3" stroke="#008000" stroke-width="1.5" stroke-dasharray="1.8 3.4"/>
<text x="250.7" y="80.3" font-family="Liberation Sans, sans-serif" font-size="10.7" fill="#000">n<tspan font-size="7.6" dy="3.6">1</tspan><tspan dy="-3.6">=0.2; n</tspan><tspan font-size="7.6" dy="3.6">2</tspan><tspan dy="-3.6">=10</tspan></text>
<line x1="224" y1="93.3" x2="248.1" y2="93.3" stroke="#808000" stroke-width="1.5" stroke-dasharray="5.5 1.7 1.5 2.05"/>
<text x="250.7" y="97.3" font-family="Liberation Sans, sans-serif" font-size="10.7" fill="#000">n<tspan font-size="7.6" dy="3.6">1</tspan><tspan dy="-3.6">=0.2; n</tspan><tspan font-size="7.6" dy="3.6">2</tspan><tspan dy="-3.6">=5</tspan></text>
<line x1="224" y1="110.3" x2="248.1" y2="110.3" stroke="#ff00ff" stroke-width="1.5" stroke-dasharray="4.2 2.1 1.5 1.9 1.5 2.1"/>
<text x="250.7" y="114.3" font-family="Liberation Sans, sans-serif" font-size="10.7" fill="#000">n<tspan font-size="7.6" dy="3.6">1</tspan><tspan dy="-3.6">=n</tspan><tspan font-size="7.6" dy="3.6">2</tspan><tspan dy="-3.6">=n</tspan><tspan font-size="7.6" dy="3.6">d</tspan><tspan dy="-3.6">=0</tspan></text>
</svg>
</body></html>
